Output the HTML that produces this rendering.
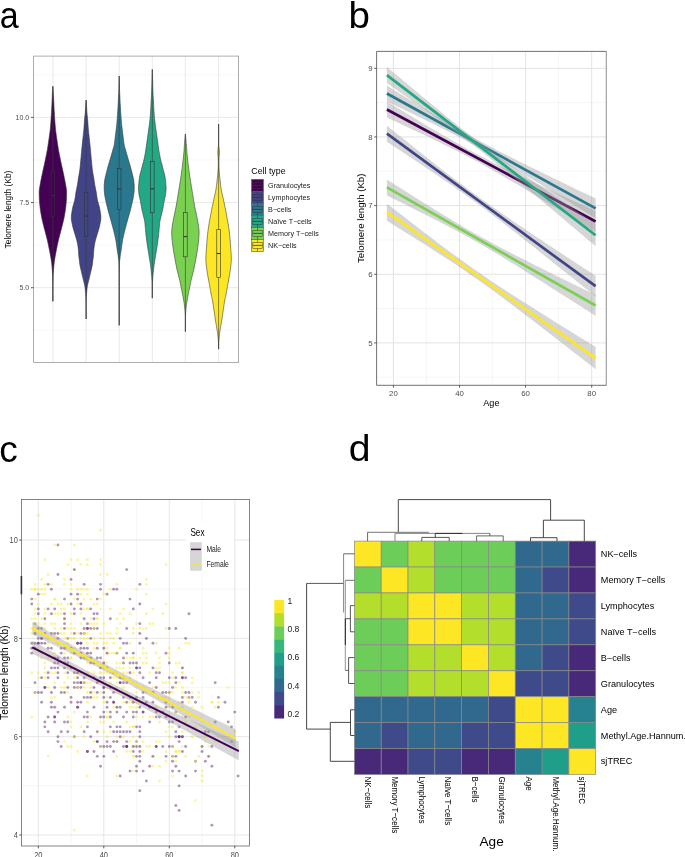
<!DOCTYPE html>
<html><head><meta charset="utf-8"><title>Figure</title>
<style>html,body{margin:0;padding:0;background:#fff;}svg{display:block;will-change:transform;font-family:"Liberation Sans", sans-serif;}</style>
</head><body>
<svg width="685" height="857" viewBox="0 0 685 857">
<rect width="685" height="857" fill="#fff"/>
<rect x="33.6" y="56.1" width="205.0" height="306.4" fill="#fff"/>
<line x1="33.6" x2="238.6" y1="330.27" y2="330.27" stroke="#f0f0f0" stroke-width="0.5"/>
<line x1="33.6" x2="238.6" y1="245.12" y2="245.12" stroke="#f0f0f0" stroke-width="0.5"/>
<line x1="33.6" x2="238.6" y1="159.97" y2="159.97" stroke="#f0f0f0" stroke-width="0.5"/>
<line x1="33.6" x2="238.6" y1="74.82" y2="74.82" stroke="#f0f0f0" stroke-width="0.5"/>
<line x1="33.6" x2="238.6" y1="287.7" y2="287.7" stroke="#e6e6e6" stroke-width="0.9"/>
<line x1="33.6" x2="238.6" y1="202.55" y2="202.55" stroke="#e6e6e6" stroke-width="0.9"/>
<line x1="33.6" x2="238.6" y1="117.4" y2="117.4" stroke="#e6e6e6" stroke-width="0.9"/>
<line x1="52.9" x2="52.9" y1="56.1" y2="362.5" stroke="#e6e6e6" stroke-width="0.9"/>
<line x1="86.1" x2="86.1" y1="56.1" y2="362.5" stroke="#e6e6e6" stroke-width="0.9"/>
<line x1="119.2" x2="119.2" y1="56.1" y2="362.5" stroke="#e6e6e6" stroke-width="0.9"/>
<line x1="152.3" x2="152.3" y1="56.1" y2="362.5" stroke="#e6e6e6" stroke-width="0.9"/>
<line x1="185.4" x2="185.4" y1="56.1" y2="362.5" stroke="#e6e6e6" stroke-width="0.9"/>
<line x1="218.6" x2="218.6" y1="56.1" y2="362.5" stroke="#e6e6e6" stroke-width="0.9"/>
<path d="M52.98 86.3C53.08 88.25 53.4 94.05 53.6 98C53.8 101.95 54 106.33 54.2 110C54.4 113.67 54.57 116.67 54.8 120C55.03 123.33 55.23 126.67 55.6 130C55.97 133.33 56.52 136.67 57 140C57.48 143.33 57.92 146.67 58.5 150C59.08 153.33 59.8 156.67 60.5 160C61.2 163.33 61.98 166.67 62.7 170C63.42 173.33 64.17 176.67 64.8 180C65.43 183.33 66.2 187.5 66.5 190C66.8 192.5 66.61 193.33 66.6 195C66.59 196.67 66.55 198.33 66.45 200C66.35 201.67 66.17 203.33 66 205C65.83 206.67 65.63 208.33 65.4 210C65.17 211.67 64.9 213.33 64.6 215C64.3 216.67 64.18 217.5 63.6 220C63.02 222.5 61.95 226.67 61.1 230C60.25 233.33 59.28 236.67 58.5 240C57.72 243.33 57.05 246.67 56.4 250C55.75 253.33 55.05 257 54.6 260C54.15 263 53.96 264.67 53.7 268C53.44 271.33 53.17 274.45 53.05 280C52.93 285.55 52.99 297.75 52.98 301.3L52.82 301.3C52.81 297.75 52.87 285.55 52.75 280C52.63 274.45 52.36 271.33 52.1 268C51.84 264.67 51.65 263 51.2 260C50.75 257 50.05 253.33 49.4 250C48.75 246.67 48.08 243.33 47.3 240C46.52 236.67 45.55 233.33 44.7 230C43.85 226.67 42.78 222.5 42.2 220C41.62 217.5 41.5 216.67 41.2 215C40.9 213.33 40.63 211.67 40.4 210C40.17 208.33 39.97 206.67 39.8 205C39.62 203.33 39.45 201.67 39.35 200C39.25 198.33 39.21 196.67 39.2 195C39.19 193.33 39 192.5 39.3 190C39.6 187.5 40.37 183.33 41 180C41.63 176.67 42.38 173.33 43.1 170C43.82 166.67 44.6 163.33 45.3 160C46 156.67 46.72 153.33 47.3 150C47.88 146.67 48.32 143.33 48.8 140C49.28 136.67 49.83 133.33 50.2 130C50.57 126.67 50.77 123.33 51 120C51.23 116.67 51.4 113.67 51.6 110C51.8 106.33 52 101.95 52.2 98C52.4 94.05 52.72 88.25 52.82 86.3Z" fill="#440154" stroke="#333" stroke-width="0.55"/>
<line x1="52.9" x2="52.9" y1="86.3" y2="171.2" stroke="#3a3a3a" stroke-width="0.6"/>
<line x1="52.9" x2="52.9" y1="216.3" y2="301.3" stroke="#3a3a3a" stroke-width="0.6"/>
<rect x="51.1" y="171.2" width="3.6" height="45.1" fill="#440154" stroke="#333" stroke-width="0.6"/>
<line x1="51.1" x2="54.7" y1="195.5" y2="195.5" stroke="#333" stroke-width="1.1"/>
<path d="M86.18 100.1C86.3 102.08 86.65 108.68 86.9 112C87.15 115.32 87.45 117 87.7 120C87.95 123 88.1 126.67 88.4 130C88.7 133.33 89.15 136.67 89.5 140C89.85 143.33 90.18 146.67 90.5 150C90.82 153.33 91.08 156.67 91.4 160C91.72 163.33 92 167 92.4 170C92.8 173 93.4 175.5 93.8 178C94.2 180.5 94.37 182.5 94.8 185C95.23 187.5 95.97 190.5 96.4 193C96.83 195.5 96.9 197.67 97.4 200C97.9 202.33 98.87 204.67 99.4 207C99.93 209.33 100.35 212.25 100.6 214C100.85 215.75 100.9 216.33 100.9 217.5C100.9 218.67 100.9 219.25 100.6 221C100.3 222.75 99.7 225.67 99.1 228C98.5 230.33 97.68 232.67 97 235C96.32 237.33 95.52 239.67 95 242C94.48 244.33 94.17 246.67 93.9 249C93.63 251.33 93.57 254.17 93.4 256C93.23 257.83 93.08 258.5 92.9 260C92.72 261.5 92.58 263.33 92.3 265C92.02 266.67 91.58 268.33 91.2 270C90.82 271.67 90.4 273.33 90 275C89.6 276.67 89.2 278.33 88.8 280C88.4 281.67 87.92 283.33 87.6 285C87.28 286.67 87.12 287.5 86.9 290C86.67 292.5 86.37 295.17 86.25 300C86.13 304.83 86.19 315.83 86.18 319L86.02 319C86.01 315.83 86.07 304.83 85.95 300C85.83 295.17 85.52 292.5 85.3 290C85.08 287.5 84.92 286.67 84.6 285C84.28 283.33 83.8 281.67 83.4 280C83 278.33 82.6 276.67 82.2 275C81.8 273.33 81.38 271.67 81 270C80.62 268.33 80.18 266.67 79.9 265C79.62 263.33 79.48 261.5 79.3 260C79.12 258.5 78.97 257.83 78.8 256C78.63 254.17 78.57 251.33 78.3 249C78.03 246.67 77.72 244.33 77.2 242C76.68 239.67 75.88 237.33 75.2 235C74.52 232.67 73.7 230.33 73.1 228C72.5 225.67 71.9 222.75 71.6 221C71.3 219.25 71.3 218.67 71.3 217.5C71.3 216.33 71.35 215.75 71.6 214C71.85 212.25 72.27 209.33 72.8 207C73.33 204.67 74.3 202.33 74.8 200C75.3 197.67 75.37 195.5 75.8 193C76.23 190.5 76.97 187.5 77.4 185C77.83 182.5 78 180.5 78.4 178C78.8 175.5 79.4 173 79.8 170C80.2 167 80.48 163.33 80.8 160C81.12 156.67 81.38 153.33 81.7 150C82.02 146.67 82.35 143.33 82.7 140C83.05 136.67 83.5 133.33 83.8 130C84.1 126.67 84.25 123 84.5 120C84.75 117 85.05 115.32 85.3 112C85.55 108.68 85.9 102.08 86.02 100.1Z" fill="#414487" stroke="#333" stroke-width="0.55"/>
<line x1="86.1" x2="86.1" y1="100.1" y2="192.2" stroke="#3a3a3a" stroke-width="0.6"/>
<line x1="86.1" x2="86.1" y1="236.4" y2="319" stroke="#3a3a3a" stroke-width="0.6"/>
<rect x="84.3" y="192.2" width="3.6" height="44.2" fill="#414487" stroke="#333" stroke-width="0.6"/>
<line x1="84.3" x2="87.9" y1="216.1" y2="216.1" stroke="#333" stroke-width="1.1"/>
<path d="M119.28 76.1C119.33 78.42 119.46 86.85 119.55 90C119.64 93.15 119.67 92.5 119.8 95C119.92 97.5 120.12 101.67 120.3 105C120.48 108.33 120.67 111.67 120.9 115C121.13 118.33 121.37 121.67 121.7 125C122.03 128.33 122.48 131.67 122.9 135C123.32 138.33 123.75 142.5 124.2 145C124.65 147.5 125.13 148.33 125.6 150C126.07 151.67 126.53 153.33 127 155C127.47 156.67 127.95 158.33 128.45 160C128.95 161.67 129.53 163.33 130 165C130.47 166.67 130.87 168.33 131.3 170C131.73 171.67 132.2 173.33 132.6 175C133 176.67 133.43 178.33 133.7 180C133.97 181.67 134.12 183.33 134.2 185C134.28 186.67 134.28 188.33 134.2 190C134.12 191.67 133.93 193.33 133.7 195C133.47 196.67 133.15 198.33 132.8 200C132.45 201.67 132 203.33 131.6 205C131.2 206.67 131.07 207.5 130.4 210C129.73 212.5 128.52 216.67 127.6 220C126.68 223.33 125.73 226.67 124.9 230C124.07 233.33 123.22 236.67 122.6 240C121.98 243.33 121.63 247 121.2 250C120.77 253 120.31 254.67 120 258C119.69 261.33 119.47 258.78 119.35 270C119.23 281.22 119.29 316.08 119.28 325.3L119.12 325.3C119.11 316.08 119.17 281.22 119.05 270C118.93 258.78 118.71 261.33 118.4 258C118.09 254.67 117.63 253 117.2 250C116.77 247 116.42 243.33 115.8 240C115.18 236.67 114.33 233.33 113.5 230C112.67 226.67 111.72 223.33 110.8 220C109.88 216.67 108.67 212.5 108 210C107.33 207.5 107.2 206.67 106.8 205C106.4 203.33 105.95 201.67 105.6 200C105.25 198.33 104.93 196.67 104.7 195C104.47 193.33 104.28 191.67 104.2 190C104.12 188.33 104.12 186.67 104.2 185C104.28 183.33 104.43 181.67 104.7 180C104.97 178.33 105.4 176.67 105.8 175C106.2 173.33 106.67 171.67 107.1 170C107.53 168.33 107.93 166.67 108.4 165C108.88 163.33 109.45 161.67 109.95 160C110.45 158.33 110.93 156.67 111.4 155C111.88 153.33 112.33 151.67 112.8 150C113.27 148.33 113.75 147.5 114.2 145C114.65 142.5 115.08 138.33 115.5 135C115.92 131.67 116.37 128.33 116.7 125C117.03 121.67 117.27 118.33 117.5 115C117.73 111.67 117.92 108.33 118.1 105C118.28 101.67 118.48 97.5 118.6 95C118.73 92.5 118.76 93.15 118.85 90C118.94 86.85 119.08 78.42 119.12 76.1Z" fill="#2A788E" stroke="#333" stroke-width="0.55"/>
<line x1="119.2" x2="119.2" y1="76.1" y2="168.4" stroke="#3a3a3a" stroke-width="0.6"/>
<line x1="119.2" x2="119.2" y1="209.4" y2="325.3" stroke="#3a3a3a" stroke-width="0.6"/>
<rect x="117.4" y="168.4" width="3.6" height="41" fill="#2A788E" stroke="#333" stroke-width="0.6"/>
<line x1="117.4" x2="121" y1="188.9" y2="188.9" stroke="#333" stroke-width="1.1"/>
<path d="M152.38 69.5C152.47 72.92 152.73 84.92 152.9 90C153.07 95.08 153.23 96.67 153.4 100C153.57 103.33 153.68 106.67 153.9 110C154.12 113.33 154.35 116.67 154.7 120C155.05 123.33 155.55 126.67 156 130C156.45 133.33 156.93 136.67 157.4 140C157.87 143.33 158.25 146.67 158.8 150C159.35 153.33 160.15 157.5 160.7 160C161.25 162.5 161.67 163.33 162.1 165C162.53 166.67 162.87 168.33 163.3 170C163.73 171.67 164.33 173.33 164.7 175C165.07 176.67 165.3 178.33 165.5 180C165.7 181.67 165.8 183.5 165.9 185C166 186.5 166.17 187.33 166.1 189C166.03 190.67 165.78 193.17 165.5 195C165.22 196.83 164.73 198.33 164.4 200C164.07 201.67 163.8 203.33 163.5 205C163.2 206.67 163.15 207.5 162.6 210C162.05 212.5 160.72 217.5 160.2 220C159.68 222.5 159.77 222.5 159.5 225C159.23 227.5 158.97 231.67 158.6 235C158.23 238.33 157.78 241.67 157.3 245C156.82 248.33 156.23 251.67 155.7 255C155.17 258.33 154.55 261.67 154.1 265C153.65 268.33 153.28 271.67 153 275C152.72 278.33 152.55 281.15 152.45 285C152.35 288.85 152.39 295.92 152.38 298.1L152.22 298.1C152.21 295.92 152.25 288.85 152.15 285C152.05 281.15 151.88 278.33 151.6 275C151.33 271.67 150.95 268.33 150.5 265C150.05 261.67 149.43 258.33 148.9 255C148.37 251.67 147.78 248.33 147.3 245C146.82 241.67 146.37 238.33 146 235C145.63 231.67 145.37 227.5 145.1 225C144.83 222.5 144.92 222.5 144.4 220C143.88 217.5 142.55 212.5 142 210C141.45 207.5 141.4 206.67 141.1 205C140.8 203.33 140.53 201.67 140.2 200C139.87 198.33 139.38 196.83 139.1 195C138.82 193.17 138.57 190.67 138.5 189C138.43 187.33 138.6 186.5 138.7 185C138.8 183.5 138.9 181.67 139.1 180C139.3 178.33 139.53 176.67 139.9 175C140.27 173.33 140.87 171.67 141.3 170C141.73 168.33 142.07 166.67 142.5 165C142.93 163.33 143.35 162.5 143.9 160C144.45 157.5 145.25 153.33 145.8 150C146.35 146.67 146.73 143.33 147.2 140C147.67 136.67 148.15 133.33 148.6 130C149.05 126.67 149.55 123.33 149.9 120C150.25 116.67 150.48 113.33 150.7 110C150.92 106.67 151.03 103.33 151.2 100C151.37 96.67 151.53 95.08 151.7 90C151.87 84.92 152.13 72.92 152.22 69.5Z" fill="#22A884" stroke="#333" stroke-width="0.55"/>
<line x1="152.3" x2="152.3" y1="69.5" y2="161.5" stroke="#3a3a3a" stroke-width="0.6"/>
<line x1="152.3" x2="152.3" y1="212.7" y2="298.1" stroke="#3a3a3a" stroke-width="0.6"/>
<rect x="150.5" y="161.5" width="3.6" height="51.2" fill="#22A884" stroke="#333" stroke-width="0.6"/>
<line x1="150.5" x2="154.1" y1="188.8" y2="188.8" stroke="#333" stroke-width="1.1"/>
<path d="M185.48 134.2C185.57 135.17 185.85 138.2 186 140C186.15 141.8 186.21 142.5 186.4 145C186.59 147.5 186.84 151.67 187.15 155C187.46 158.33 187.84 161.67 188.25 165C188.66 168.33 189.12 171.67 189.6 175C190.08 178.33 190.62 181.67 191.15 185C191.68 188.33 192.26 191.67 192.8 195C193.34 198.33 193.78 201.67 194.4 205C195.02 208.33 195.83 211.67 196.5 215C197.17 218.33 197.97 222.17 198.4 225C198.83 227.83 199.05 229.5 199.1 232C199.15 234.5 198.98 237 198.7 240C198.42 243 197.9 246.67 197.4 250C196.9 253.33 196.32 256.67 195.7 260C195.08 263.33 194.46 266.67 193.7 270C192.94 273.33 191.92 276.67 191.15 280C190.38 283.33 189.76 286.67 189.1 290C188.44 293.33 187.67 297.33 187.2 300C186.73 302.67 186.58 303.5 186.3 306C186.03 308.5 185.69 310.73 185.55 315C185.41 319.27 185.49 328.83 185.48 331.6L185.32 331.6C185.31 328.83 185.39 319.27 185.25 315C185.11 310.73 184.78 308.5 184.5 306C184.22 303.5 184.07 302.67 183.6 300C183.13 297.33 182.36 293.33 181.7 290C181.04 286.67 180.42 283.33 179.65 280C178.88 276.67 177.86 273.33 177.1 270C176.34 266.67 175.72 263.33 175.1 260C174.48 256.67 173.9 253.33 173.4 250C172.9 246.67 172.38 243 172.1 240C171.82 237 171.65 234.5 171.7 232C171.75 229.5 171.97 227.83 172.4 225C172.83 222.17 173.63 218.33 174.3 215C174.97 211.67 175.78 208.33 176.4 205C177.02 201.67 177.46 198.33 178 195C178.54 191.67 179.12 188.33 179.65 185C180.18 181.67 180.72 178.33 181.2 175C181.68 171.67 182.14 168.33 182.55 165C182.96 161.67 183.34 158.33 183.65 155C183.96 151.67 184.21 147.5 184.4 145C184.59 142.5 184.65 141.8 184.8 140C184.95 138.2 185.23 135.17 185.32 134.2Z" fill="#7AD151" stroke="#333" stroke-width="0.55"/>
<line x1="185.4" x2="185.4" y1="134.2" y2="212.3" stroke="#3a3a3a" stroke-width="0.6"/>
<line x1="185.4" x2="185.4" y1="256.8" y2="331.6" stroke="#3a3a3a" stroke-width="0.6"/>
<rect x="183.6" y="212.3" width="3.6" height="44.5" fill="#7AD151" stroke="#333" stroke-width="0.6"/>
<line x1="183.6" x2="187.2" y1="236.6" y2="236.6" stroke="#333" stroke-width="1.1"/>
<path d="M218.65 124C218.66 127.33 218.62 140 218.7 144C218.77 148 218.98 146.5 219.1 148C219.22 149.5 219.42 151.33 219.4 153C219.38 154.67 219.09 156.33 219 158C218.91 159.67 218.83 161 218.85 163C218.87 165 218.97 167.83 219.1 170C219.22 172.17 219.4 174 219.6 176C219.8 178 220.02 179.67 220.3 182C220.58 184.33 220.77 187 221.3 190C221.83 193 222.78 196.67 223.5 200C224.22 203.33 225.03 207.17 225.6 210C226.17 212.83 226.44 214.5 226.9 217C227.36 219.5 227.88 222 228.35 225C228.82 228 229.34 231.67 229.7 235C230.06 238.33 230.22 241.17 230.5 245C230.78 248.83 231.28 254.67 231.35 258C231.42 261.33 231.2 262.17 230.9 265C230.6 267.83 230.08 271.67 229.55 275C229.02 278.33 228.31 281.67 227.7 285C227.09 288.33 226.38 292.5 225.9 295C225.42 297.5 225.24 297.5 224.8 300C224.36 302.5 223.75 306.67 223.25 310C222.75 313.33 222.32 316.67 221.8 320C221.27 323.33 220.52 327.33 220.1 330C219.68 332.67 219.52 334 219.3 336C219.07 338 218.85 339.82 218.75 342C218.65 344.18 218.69 347.92 218.68 349.1L218.52 349.1C218.51 347.92 218.55 344.18 218.45 342C218.35 339.82 218.12 338 217.9 336C217.68 334 217.52 332.67 217.1 330C216.68 327.33 215.93 323.33 215.4 320C214.88 316.67 214.45 313.33 213.95 310C213.45 306.67 212.84 302.5 212.4 300C211.96 297.5 211.78 297.5 211.3 295C210.82 292.5 210.11 288.33 209.5 285C208.89 281.67 208.18 278.33 207.65 275C207.12 271.67 206.6 267.83 206.3 265C206 262.17 205.78 261.33 205.85 258C205.92 254.67 206.42 248.83 206.7 245C206.97 241.17 207.14 238.33 207.5 235C207.86 231.67 208.38 228 208.85 225C209.32 222 209.84 219.5 210.3 217C210.76 214.5 211.03 212.83 211.6 210C212.17 207.17 212.98 203.33 213.7 200C214.42 196.67 215.37 193 215.9 190C216.43 187 216.62 184.33 216.9 182C217.18 179.67 217.4 178 217.6 176C217.8 174 217.97 172.17 218.1 170C218.22 167.83 218.33 165 218.35 163C218.37 161 218.29 159.67 218.2 158C218.11 156.33 217.82 154.67 217.8 153C217.78 151.33 217.98 149.5 218.1 148C218.22 146.5 218.43 148 218.5 144C218.57 140 218.54 127.33 218.55 124Z" fill="#FDE725" stroke="#333" stroke-width="0.55"/>
<line x1="218.6" x2="218.6" y1="124" y2="229.6" stroke="#3a3a3a" stroke-width="0.6"/>
<line x1="218.6" x2="218.6" y1="277.4" y2="349.1" stroke="#3a3a3a" stroke-width="0.6"/>
<rect x="216.8" y="229.6" width="3.6" height="47.8" fill="#FDE725" stroke="#333" stroke-width="0.6"/>
<line x1="216.8" x2="220.4" y1="253.5" y2="253.5" stroke="#333" stroke-width="1.1"/>
<rect x="33.6" y="56.1" width="205.0" height="306.4" fill="none" stroke="#999" stroke-width="0.8"/>
<line x1="31" x2="33.6" y1="117.4" y2="117.4" stroke="#333" stroke-width="0.8"/>
<text x="29.2" y="119.9" font-size="7" fill="#4d4d4d" text-anchor="end">10.0</text>
<line x1="31" x2="33.6" y1="202.55" y2="202.55" stroke="#333" stroke-width="0.8"/>
<text x="29.2" y="205.05" font-size="7" fill="#4d4d4d" text-anchor="end">7.5</text>
<line x1="31" x2="33.6" y1="287.7" y2="287.7" stroke="#333" stroke-width="0.8"/>
<text x="29.2" y="290.2" font-size="7" fill="#4d4d4d" text-anchor="end">5.0</text>
<text transform="translate(11.3,209.5) rotate(-90)" font-size="8.4" fill="#000" text-anchor="middle">Telomere length (Kb)</text>
<text x="251.3" y="174" font-size="8.8" fill="#000">Cell type</text>
<rect x="251.6" y="179.4" width="11.8" height="12" fill="#440154" stroke="#555" stroke-width="0.6"/>
<line x1="257.5" x2="257.5" y1="179.4" y2="182.4" stroke="#333" stroke-width="0.5"/>
<line x1="257.5" x2="257.5" y1="188.4" y2="191.4" stroke="#333" stroke-width="0.5"/>
<rect x="252.8" y="182.4" width="9.4" height="6" fill="none" stroke="#333" stroke-width="0.5"/>
<line x1="252.8" x2="262.2" y1="185.4" y2="185.4" stroke="#333" stroke-width="0.8"/>
<text x="268.1" y="187.9" font-size="7.2" fill="#1a1a1a">Granulocytes</text>
<rect x="251.6" y="191.4" width="11.8" height="12" fill="#414487" stroke="#555" stroke-width="0.6"/>
<line x1="257.5" x2="257.5" y1="191.4" y2="194.4" stroke="#333" stroke-width="0.5"/>
<line x1="257.5" x2="257.5" y1="200.4" y2="203.4" stroke="#333" stroke-width="0.5"/>
<rect x="252.8" y="194.4" width="9.4" height="6" fill="none" stroke="#333" stroke-width="0.5"/>
<line x1="252.8" x2="262.2" y1="197.4" y2="197.4" stroke="#333" stroke-width="0.8"/>
<text x="268.1" y="199.9" font-size="7.2" fill="#1a1a1a">Lymphocytes</text>
<rect x="251.6" y="203.4" width="11.8" height="12" fill="#2A788E" stroke="#555" stroke-width="0.6"/>
<line x1="257.5" x2="257.5" y1="203.4" y2="206.4" stroke="#333" stroke-width="0.5"/>
<line x1="257.5" x2="257.5" y1="212.4" y2="215.4" stroke="#333" stroke-width="0.5"/>
<rect x="252.8" y="206.4" width="9.4" height="6" fill="none" stroke="#333" stroke-width="0.5"/>
<line x1="252.8" x2="262.2" y1="209.4" y2="209.4" stroke="#333" stroke-width="0.8"/>
<text x="268.1" y="211.9" font-size="7.2" fill="#1a1a1a">B−cells</text>
<rect x="251.6" y="215.4" width="11.8" height="12" fill="#22A884" stroke="#555" stroke-width="0.6"/>
<line x1="257.5" x2="257.5" y1="215.4" y2="218.4" stroke="#333" stroke-width="0.5"/>
<line x1="257.5" x2="257.5" y1="224.4" y2="227.4" stroke="#333" stroke-width="0.5"/>
<rect x="252.8" y="218.4" width="9.4" height="6" fill="none" stroke="#333" stroke-width="0.5"/>
<line x1="252.8" x2="262.2" y1="221.4" y2="221.4" stroke="#333" stroke-width="0.8"/>
<text x="268.1" y="223.9" font-size="7.2" fill="#1a1a1a">Naïve T−cells</text>
<rect x="251.6" y="227.4" width="11.8" height="12" fill="#7AD151" stroke="#555" stroke-width="0.6"/>
<line x1="257.5" x2="257.5" y1="227.4" y2="230.4" stroke="#333" stroke-width="0.5"/>
<line x1="257.5" x2="257.5" y1="236.4" y2="239.4" stroke="#333" stroke-width="0.5"/>
<rect x="252.8" y="230.4" width="9.4" height="6" fill="none" stroke="#333" stroke-width="0.5"/>
<line x1="252.8" x2="262.2" y1="233.4" y2="233.4" stroke="#333" stroke-width="0.8"/>
<text x="268.1" y="235.9" font-size="7.2" fill="#1a1a1a">Memory T−cells</text>
<rect x="251.6" y="239.4" width="11.8" height="12" fill="#FDE725" stroke="#555" stroke-width="0.6"/>
<line x1="257.5" x2="257.5" y1="239.4" y2="242.4" stroke="#333" stroke-width="0.5"/>
<line x1="257.5" x2="257.5" y1="248.4" y2="251.4" stroke="#333" stroke-width="0.5"/>
<rect x="252.8" y="242.4" width="9.4" height="6" fill="none" stroke="#333" stroke-width="0.5"/>
<line x1="252.8" x2="262.2" y1="245.4" y2="245.4" stroke="#333" stroke-width="0.8"/>
<text x="268.1" y="247.9" font-size="7.2" fill="#1a1a1a">NK−cells</text>
<rect x="376.6" y="51.4" width="229.69999999999993" height="333.90000000000003" fill="#fff"/>
<line x1="376.6" x2="606.3" y1="377.23" y2="377.23" stroke="#f0f0f0" stroke-width="0.6"/>
<line x1="376.6" x2="606.3" y1="308.58" y2="308.58" stroke="#f0f0f0" stroke-width="0.6"/>
<line x1="376.6" x2="606.3" y1="239.93" y2="239.93" stroke="#f0f0f0" stroke-width="0.6"/>
<line x1="376.6" x2="606.3" y1="171.28" y2="171.28" stroke="#f0f0f0" stroke-width="0.6"/>
<line x1="376.6" x2="606.3" y1="102.62" y2="102.62" stroke="#f0f0f0" stroke-width="0.6"/>
<line x1="426.45" x2="426.45" y1="51.4" y2="385.3" stroke="#f0f0f0" stroke-width="0.6"/>
<line x1="492.55" x2="492.55" y1="51.4" y2="385.3" stroke="#f0f0f0" stroke-width="0.6"/>
<line x1="558.65" x2="558.65" y1="51.4" y2="385.3" stroke="#f0f0f0" stroke-width="0.6"/>
<line x1="376.6" x2="606.3" y1="342.9" y2="342.9" stroke="#e3e3e3" stroke-width="1"/>
<line x1="376.6" x2="606.3" y1="274.25" y2="274.25" stroke="#e3e3e3" stroke-width="1"/>
<line x1="376.6" x2="606.3" y1="205.6" y2="205.6" stroke="#e3e3e3" stroke-width="1"/>
<line x1="376.6" x2="606.3" y1="136.95" y2="136.95" stroke="#e3e3e3" stroke-width="1"/>
<line x1="376.6" x2="606.3" y1="68.3" y2="68.3" stroke="#e3e3e3" stroke-width="1"/>
<line x1="393.4" x2="393.4" y1="51.4" y2="385.3" stroke="#e3e3e3" stroke-width="1"/>
<line x1="459.5" x2="459.5" y1="51.4" y2="385.3" stroke="#e3e3e3" stroke-width="1"/>
<line x1="525.6" x2="525.6" y1="51.4" y2="385.3" stroke="#e3e3e3" stroke-width="1"/>
<line x1="591.7" x2="591.7" y1="51.4" y2="385.3" stroke="#e3e3e3" stroke-width="1"/>
<path d="M386.9 101.49L395.6 106.77L404.29 112.04L412.99 117.28L421.68 122.5L430.38 127.67L439.07 132.8L447.77 137.86L456.47 142.84L465.16 147.72L473.86 152.47L482.55 157.08L491.25 161.57L499.95 165.96L508.64 170.25L517.34 174.47L526.03 178.63L534.73 182.76L543.42 186.86L552.12 190.93L560.82 194.99L569.51 199.03L578.21 203.06L586.9 207.08L595.6 211.1L595.6 231.9L586.9 226.58L578.21 221.27L569.51 215.97L560.82 210.68L552.12 205.4L543.42 200.14L534.73 194.91L526.03 189.7L517.34 184.53L508.64 179.42L499.95 174.38L491.25 169.43L482.55 164.58L473.86 159.87L465.16 155.28L456.47 150.82L447.77 146.47L439.07 142.2L430.38 137.99L421.68 133.84L412.99 129.72L404.29 125.63L395.6 121.56L386.9 117.51Z" fill="#999" fill-opacity="0.4"/>
<line x1="386.9" y1="109.5" x2="595.6" y2="221.5" stroke="#440154" stroke-width="2.7"/>
<path d="M386.9 125.69L395.6 132.66L404.29 139.61L412.99 146.54L421.68 153.45L430.38 160.31L439.07 167.13L447.77 173.88L456.47 180.54L465.16 187.1L473.86 193.54L482.55 199.85L491.25 206.02L499.95 212.09L508.64 218.07L517.34 223.98L526.03 229.83L534.73 235.65L543.42 241.43L552.12 247.19L560.82 252.94L569.51 258.67L578.21 264.39L586.9 270.09L595.6 275.8L595.6 296.6L586.9 289.6L578.21 282.6L569.51 275.61L560.82 268.63L552.12 261.66L543.42 254.72L534.73 247.79L526.03 240.9L517.34 234.05L508.64 227.25L499.95 220.52L491.25 213.88L482.55 207.35L473.86 200.94L465.16 194.67L456.47 188.52L447.77 182.48L439.07 176.52L430.38 170.63L421.68 164.79L412.99 158.98L404.29 153.2L395.6 147.45L386.9 141.71Z" fill="#999" fill-opacity="0.4"/>
<line x1="386.9" y1="133.7" x2="595.6" y2="286.2" stroke="#414487" stroke-width="2.7"/>
<path d="M386.9 85.49L395.6 90.91L404.29 96.31L412.99 101.68L421.68 107.03L430.38 112.33L439.07 117.58L447.77 122.77L456.47 127.88L465.16 132.87L473.86 137.75L482.55 142.5L491.25 147.12L499.95 151.64L508.64 156.07L517.34 160.44L526.03 164.75L534.73 169.03L543.42 173.28L552.12 177.51L560.82 181.73L569.51 185.94L578.21 190.14L586.9 194.33L595.6 198.52L595.6 218.28L586.9 212.9L578.21 207.51L569.51 202.14L560.82 196.77L552.12 191.41L543.42 186.07L534.73 180.75L526.03 175.45L517.34 170.19L508.64 164.98L499.95 159.83L491.25 154.78L482.55 149.83L473.86 145L465.16 140.3L456.47 135.72L447.77 131.25L439.07 126.87L430.38 122.54L421.68 118.27L412.99 114.04L404.29 109.84L395.6 105.67L386.9 101.51Z" fill="#999" fill-opacity="0.4"/>
<line x1="386.9" y1="93.5" x2="595.6" y2="208.4" stroke="#2A788E" stroke-width="2.7"/>
<path d="M386.9 67.09L395.6 74.36L404.29 81.61L412.99 88.84L421.68 96.05L430.38 103.22L439.07 110.34L447.77 117.41L456.47 124.38L465.16 131.25L473.86 138L482.55 144.61L491.25 151.09L499.95 157.45L508.64 163.72L517.34 169.91L526.03 176.04L534.73 182.13L543.42 188.18L552.12 194.21L560.82 200.21L569.51 206.2L578.21 212.17L586.9 218.12L595.6 224.07L595.6 246.33L586.9 238.93L578.21 231.55L569.51 224.18L560.82 216.82L552.12 209.48L543.42 202.17L534.73 194.88L526.03 187.62L517.34 180.42L508.64 173.27L499.95 166.19L491.25 159.21L482.55 152.35L473.86 145.62L465.16 139.02L456.47 132.55L447.77 126.19L439.07 119.91L430.38 113.69L421.68 107.52L412.99 101.39L404.29 95.28L395.6 89.19L386.9 83.11Z" fill="#999" fill-opacity="0.4"/>
<line x1="386.9" y1="75.1" x2="595.6" y2="235.2" stroke="#22A884" stroke-width="2.7"/>
<path d="M386.9 179.39L395.6 184.93L404.29 190.45L412.99 195.94L421.68 201.41L430.38 206.84L439.07 212.23L447.77 217.54L456.47 222.78L465.16 227.9L473.86 232.91L482.55 237.78L491.25 242.52L499.95 247.16L508.64 251.7L517.34 256.18L526.03 260.6L534.73 264.98L543.42 269.33L552.12 273.66L560.82 277.97L569.51 282.27L578.21 286.55L586.9 290.83L595.6 295.1L595.6 315.9L586.9 310.33L578.21 304.76L569.51 299.21L560.82 293.66L552.12 288.13L543.42 282.62L534.73 277.13L526.03 271.67L517.34 266.25L508.64 260.88L499.95 255.58L491.25 250.38L482.55 245.28L473.86 240.31L465.16 235.47L456.47 230.76L447.77 226.15L439.07 221.62L430.38 217.16L421.68 212.75L412.99 208.38L404.29 204.04L395.6 199.71L386.9 195.41Z" fill="#999" fill-opacity="0.4"/>
<line x1="386.9" y1="187.4" x2="595.6" y2="305.5" stroke="#7AD151" stroke-width="2.7"/>
<path d="M386.9 203.63L395.6 210.37L404.29 217.09L412.99 223.78L421.68 230.45L430.38 237.07L439.07 243.65L447.77 250.15L456.47 256.56L465.16 262.86L473.86 269.03L482.55 275.06L491.25 280.95L499.95 286.72L508.64 292.4L517.34 298L526.03 303.55L534.73 309.05L543.42 314.52L552.12 319.96L560.82 325.39L569.51 330.8L578.21 336.2L586.9 341.59L595.6 346.97L595.6 369.23L586.9 362.45L578.21 355.69L569.51 348.93L560.82 342.18L552.12 335.45L543.42 328.73L534.73 322.04L526.03 315.39L517.34 308.77L508.64 302.22L499.95 295.74L491.25 289.35L482.55 283.08L473.86 276.95L465.16 270.96L456.47 265.1L447.77 259.36L439.07 253.7L430.38 248.12L421.68 242.59L412.99 237.09L404.29 231.63L395.6 226.19L386.9 220.77Z" fill="#999" fill-opacity="0.4"/>
<line x1="386.9" y1="212.2" x2="595.6" y2="358.1" stroke="#FDE725" stroke-width="2.7"/>
<path d="M606.3 51.4H376.6M376.6 51.4V385.3H606.3" fill="none" stroke="#4d4d4d" stroke-width="0.8"/>
<line x1="606.3" x2="606.3" y1="51.0" y2="385.7" stroke="#999" stroke-width="1.1"/>
<line x1="374.2" x2="376.6" y1="342.9" y2="342.9" stroke="#333" stroke-width="0.8"/>
<text x="372.6" y="345.7" font-size="7.8" fill="#4d4d4d" text-anchor="end">5</text>
<line x1="374.2" x2="376.6" y1="274.25" y2="274.25" stroke="#333" stroke-width="0.8"/>
<text x="372.6" y="277.05" font-size="7.8" fill="#4d4d4d" text-anchor="end">6</text>
<line x1="374.2" x2="376.6" y1="205.6" y2="205.6" stroke="#333" stroke-width="0.8"/>
<text x="372.6" y="208.4" font-size="7.8" fill="#4d4d4d" text-anchor="end">7</text>
<line x1="374.2" x2="376.6" y1="136.95" y2="136.95" stroke="#333" stroke-width="0.8"/>
<text x="372.6" y="139.75" font-size="7.8" fill="#4d4d4d" text-anchor="end">8</text>
<line x1="374.2" x2="376.6" y1="68.3" y2="68.3" stroke="#333" stroke-width="0.8"/>
<text x="372.6" y="71.1" font-size="7.8" fill="#4d4d4d" text-anchor="end">9</text>
<line x1="393.4" x2="393.4" y1="385.3" y2="387.7" stroke="#333" stroke-width="0.8"/>
<text x="393.4" y="395.9" font-size="7.8" fill="#4d4d4d" text-anchor="middle">20</text>
<line x1="459.5" x2="459.5" y1="385.3" y2="387.7" stroke="#333" stroke-width="0.8"/>
<text x="459.5" y="395.9" font-size="7.8" fill="#4d4d4d" text-anchor="middle">40</text>
<line x1="525.6" x2="525.6" y1="385.3" y2="387.7" stroke="#333" stroke-width="0.8"/>
<text x="525.6" y="395.9" font-size="7.8" fill="#4d4d4d" text-anchor="middle">60</text>
<line x1="591.7" x2="591.7" y1="385.3" y2="387.7" stroke="#333" stroke-width="0.8"/>
<text x="591.7" y="395.9" font-size="7.8" fill="#4d4d4d" text-anchor="middle">80</text>
<text x="491.4" y="406.4" font-size="9.1" fill="#000" text-anchor="middle">Age</text>
<text transform="translate(364.2,218.3) rotate(-90)" font-size="9.65" fill="#000" text-anchor="middle">Telomere length (Kb)</text>
<rect x="21.5" y="499.5" width="228.0" height="346.5" fill="#fff"/>
<line x1="21.5" x2="249.5" y1="785.85" y2="785.85" stroke="#f0f0f0" stroke-width="0.6"/>
<line x1="21.5" x2="249.5" y1="687.55" y2="687.55" stroke="#f0f0f0" stroke-width="0.6"/>
<line x1="21.5" x2="249.5" y1="589.25" y2="589.25" stroke="#f0f0f0" stroke-width="0.6"/>
<line x1="71.05" x2="71.05" y1="499.5" y2="846.0" stroke="#f0f0f0" stroke-width="0.6"/>
<line x1="136.55" x2="136.55" y1="499.5" y2="846.0" stroke="#f0f0f0" stroke-width="0.6"/>
<line x1="202.05" x2="202.05" y1="499.5" y2="846.0" stroke="#f0f0f0" stroke-width="0.6"/>
<line x1="21.5" x2="249.5" y1="835" y2="835" stroke="#e3e3e3" stroke-width="0.9"/>
<line x1="21.5" x2="249.5" y1="736.7" y2="736.7" stroke="#e3e3e3" stroke-width="0.9"/>
<line x1="21.5" x2="249.5" y1="638.4" y2="638.4" stroke="#e3e3e3" stroke-width="0.9"/>
<line x1="21.5" x2="249.5" y1="540.1" y2="540.1" stroke="#e3e3e3" stroke-width="0.9"/>
<line x1="38.3" x2="38.3" y1="499.5" y2="846.0" stroke="#e3e3e3" stroke-width="0.9"/>
<line x1="103.8" x2="103.8" y1="499.5" y2="846.0" stroke="#e3e3e3" stroke-width="0.9"/>
<line x1="169.3" x2="169.3" y1="499.5" y2="846.0" stroke="#e3e3e3" stroke-width="0.9"/>
<line x1="234.8" x2="234.8" y1="499.5" y2="846.0" stroke="#e3e3e3" stroke-width="0.9"/>
<circle cx="41.57" cy="594.16" r="1.45" fill="#FDE725" fill-opacity="0.45"/>
<circle cx="169.3" cy="677.72" r="1.45" fill="#440154" fill-opacity="0.42"/>
<circle cx="113.62" cy="751.44" r="1.45" fill="#440154" fill-opacity="0.42"/>
<circle cx="77.6" cy="653.14" r="1.45" fill="#FDE725" fill-opacity="0.45"/>
<circle cx="123.45" cy="672.8" r="1.45" fill="#FDE725" fill-opacity="0.45"/>
<circle cx="71.05" cy="658.06" r="1.45" fill="#FDE725" fill-opacity="0.45"/>
<circle cx="126.72" cy="712.12" r="1.45" fill="#440154" fill-opacity="0.42"/>
<circle cx="192.22" cy="692.46" r="1.45" fill="#FDE725" fill-opacity="0.45"/>
<circle cx="116.9" cy="653.14" r="1.45" fill="#440154" fill-opacity="0.42"/>
<circle cx="192.22" cy="697.38" r="1.45" fill="#440154" fill-opacity="0.42"/>
<circle cx="130" cy="667.89" r="1.45" fill="#FDE725" fill-opacity="0.45"/>
<circle cx="195.5" cy="761.27" r="1.45" fill="#440154" fill-opacity="0.42"/>
<circle cx="146.38" cy="662.98" r="1.45" fill="#FDE725" fill-opacity="0.45"/>
<circle cx="110.35" cy="687.55" r="1.45" fill="#440154" fill-opacity="0.42"/>
<circle cx="172.57" cy="776.02" r="1.45" fill="#FDE725" fill-opacity="0.45"/>
<circle cx="100.53" cy="672.8" r="1.45" fill="#FDE725" fill-opacity="0.45"/>
<circle cx="143.1" cy="648.23" r="1.45" fill="#FDE725" fill-opacity="0.45"/>
<circle cx="38.3" cy="594.16" r="1.45" fill="#440154" fill-opacity="0.42"/>
<circle cx="169.3" cy="653.14" r="1.45" fill="#FDE725" fill-opacity="0.45"/>
<circle cx="123.45" cy="618.74" r="1.45" fill="#FDE725" fill-opacity="0.45"/>
<circle cx="77.6" cy="672.8" r="1.45" fill="#FDE725" fill-opacity="0.45"/>
<circle cx="61.22" cy="731.78" r="1.45" fill="#440154" fill-opacity="0.42"/>
<circle cx="179.12" cy="726.87" r="1.45" fill="#440154" fill-opacity="0.42"/>
<circle cx="87.42" cy="717.04" r="1.45" fill="#440154" fill-opacity="0.42"/>
<circle cx="169.3" cy="721.95" r="1.45" fill="#440154" fill-opacity="0.42"/>
<circle cx="103.8" cy="697.38" r="1.45" fill="#440154" fill-opacity="0.42"/>
<circle cx="51.4" cy="584.34" r="1.45" fill="#FDE725" fill-opacity="0.45"/>
<circle cx="136.55" cy="589.25" r="1.45" fill="#FDE725" fill-opacity="0.45"/>
<circle cx="90.7" cy="658.06" r="1.45" fill="#440154" fill-opacity="0.42"/>
<circle cx="100.53" cy="599.08" r="1.45" fill="#FDE725" fill-opacity="0.45"/>
<circle cx="169.3" cy="692.46" r="1.45" fill="#FDE725" fill-opacity="0.45"/>
<circle cx="182.4" cy="736.7" r="1.45" fill="#440154" fill-opacity="0.42"/>
<circle cx="136.55" cy="667.89" r="1.45" fill="#440154" fill-opacity="0.42"/>
<circle cx="31.75" cy="643.31" r="1.45" fill="#440154" fill-opacity="0.42"/>
<circle cx="116.9" cy="741.62" r="1.45" fill="#FDE725" fill-opacity="0.45"/>
<circle cx="169.3" cy="662.98" r="1.45" fill="#440154" fill-opacity="0.42"/>
<circle cx="136.55" cy="702.29" r="1.45" fill="#FDE725" fill-opacity="0.45"/>
<circle cx="113.62" cy="692.46" r="1.45" fill="#440154" fill-opacity="0.42"/>
<circle cx="234.8" cy="712.12" r="1.45" fill="#440154" fill-opacity="0.42"/>
<circle cx="107.07" cy="672.8" r="1.45" fill="#FDE725" fill-opacity="0.45"/>
<circle cx="133.27" cy="628.57" r="1.45" fill="#FDE725" fill-opacity="0.45"/>
<circle cx="166.02" cy="628.57" r="1.45" fill="#FDE725" fill-opacity="0.45"/>
<circle cx="130" cy="599.08" r="1.45" fill="#440154" fill-opacity="0.42"/>
<circle cx="80.88" cy="608.91" r="1.45" fill="#440154" fill-opacity="0.42"/>
<circle cx="116.9" cy="687.55" r="1.45" fill="#FDE725" fill-opacity="0.45"/>
<circle cx="71.05" cy="702.29" r="1.45" fill="#440154" fill-opacity="0.42"/>
<circle cx="120.17" cy="682.63" r="1.45" fill="#440154" fill-opacity="0.42"/>
<circle cx="146.38" cy="594.16" r="1.45" fill="#FDE725" fill-opacity="0.45"/>
<circle cx="44.85" cy="721.95" r="1.45" fill="#440154" fill-opacity="0.42"/>
<circle cx="64.5" cy="672.8" r="1.45" fill="#FDE725" fill-opacity="0.45"/>
<circle cx="90.7" cy="662.98" r="1.45" fill="#440154" fill-opacity="0.42"/>
<circle cx="166.02" cy="697.38" r="1.45" fill="#FDE725" fill-opacity="0.45"/>
<circle cx="107.07" cy="662.98" r="1.45" fill="#FDE725" fill-opacity="0.45"/>
<circle cx="136.55" cy="697.38" r="1.45" fill="#440154" fill-opacity="0.42"/>
<circle cx="172.57" cy="677.72" r="1.45" fill="#FDE725" fill-opacity="0.45"/>
<circle cx="169.3" cy="707.21" r="1.45" fill="#FDE725" fill-opacity="0.45"/>
<circle cx="71.05" cy="589.25" r="1.45" fill="#FDE725" fill-opacity="0.45"/>
<circle cx="166.02" cy="707.21" r="1.45" fill="#440154" fill-opacity="0.42"/>
<circle cx="172.57" cy="756.36" r="1.45" fill="#440154" fill-opacity="0.42"/>
<circle cx="38.3" cy="608.91" r="1.45" fill="#440154" fill-opacity="0.42"/>
<circle cx="77.6" cy="702.29" r="1.45" fill="#440154" fill-opacity="0.42"/>
<circle cx="156.2" cy="672.8" r="1.45" fill="#440154" fill-opacity="0.42"/>
<circle cx="172.57" cy="746.53" r="1.45" fill="#440154" fill-opacity="0.42"/>
<circle cx="87.42" cy="564.67" r="1.45" fill="#FDE725" fill-opacity="0.45"/>
<circle cx="74.32" cy="633.49" r="1.45" fill="#440154" fill-opacity="0.42"/>
<circle cx="139.82" cy="658.06" r="1.45" fill="#FDE725" fill-opacity="0.45"/>
<circle cx="61.22" cy="746.53" r="1.45" fill="#440154" fill-opacity="0.42"/>
<circle cx="93.97" cy="677.72" r="1.45" fill="#440154" fill-opacity="0.42"/>
<circle cx="38.3" cy="672.8" r="1.45" fill="#FDE725" fill-opacity="0.45"/>
<circle cx="71.05" cy="667.89" r="1.45" fill="#440154" fill-opacity="0.42"/>
<circle cx="139.82" cy="761.27" r="1.45" fill="#440154" fill-opacity="0.42"/>
<circle cx="67.77" cy="628.57" r="1.45" fill="#FDE725" fill-opacity="0.45"/>
<circle cx="100.53" cy="559.76" r="1.45" fill="#FDE725" fill-opacity="0.45"/>
<circle cx="31.75" cy="648.23" r="1.45" fill="#FDE725" fill-opacity="0.45"/>
<circle cx="87.42" cy="702.29" r="1.45" fill="#FDE725" fill-opacity="0.45"/>
<circle cx="185.68" cy="692.46" r="1.45" fill="#440154" fill-opacity="0.42"/>
<circle cx="84.15" cy="633.49" r="1.45" fill="#440154" fill-opacity="0.42"/>
<circle cx="202.05" cy="751.44" r="1.45" fill="#440154" fill-opacity="0.42"/>
<circle cx="179.12" cy="662.98" r="1.45" fill="#FDE725" fill-opacity="0.45"/>
<circle cx="93.97" cy="613.82" r="1.45" fill="#440154" fill-opacity="0.42"/>
<circle cx="48.12" cy="643.31" r="1.45" fill="#FDE725" fill-opacity="0.45"/>
<circle cx="116.9" cy="776.02" r="1.45" fill="#FDE725" fill-opacity="0.45"/>
<circle cx="218.43" cy="697.38" r="1.45" fill="#440154" fill-opacity="0.42"/>
<circle cx="84.15" cy="599.08" r="1.45" fill="#FDE725" fill-opacity="0.45"/>
<circle cx="38.3" cy="643.31" r="1.45" fill="#440154" fill-opacity="0.42"/>
<circle cx="166.02" cy="751.44" r="1.45" fill="#FDE725" fill-opacity="0.45"/>
<circle cx="54.67" cy="599.08" r="1.45" fill="#FDE725" fill-opacity="0.45"/>
<circle cx="67.77" cy="672.8" r="1.45" fill="#440154" fill-opacity="0.42"/>
<circle cx="100.53" cy="746.53" r="1.45" fill="#440154" fill-opacity="0.42"/>
<circle cx="110.35" cy="589.25" r="1.45" fill="#FDE725" fill-opacity="0.45"/>
<circle cx="175.85" cy="756.36" r="1.45" fill="#440154" fill-opacity="0.42"/>
<circle cx="120.17" cy="682.63" r="1.45" fill="#440154" fill-opacity="0.42"/>
<circle cx="156.2" cy="707.21" r="1.45" fill="#FDE725" fill-opacity="0.45"/>
<circle cx="44.85" cy="589.25" r="1.45" fill="#FDE725" fill-opacity="0.45"/>
<circle cx="84.15" cy="736.7" r="1.45" fill="#FDE725" fill-opacity="0.45"/>
<circle cx="120.17" cy="648.23" r="1.45" fill="#FDE725" fill-opacity="0.45"/>
<circle cx="172.57" cy="721.95" r="1.45" fill="#440154" fill-opacity="0.42"/>
<circle cx="156.2" cy="707.21" r="1.45" fill="#FDE725" fill-opacity="0.45"/>
<circle cx="35.02" cy="692.46" r="1.45" fill="#440154" fill-opacity="0.42"/>
<circle cx="41.57" cy="638.4" r="1.45" fill="#440154" fill-opacity="0.42"/>
<circle cx="139.82" cy="623.65" r="1.45" fill="#440154" fill-opacity="0.42"/>
<circle cx="90.7" cy="653.14" r="1.45" fill="#440154" fill-opacity="0.42"/>
<circle cx="156.2" cy="746.53" r="1.45" fill="#440154" fill-opacity="0.42"/>
<circle cx="116.9" cy="712.12" r="1.45" fill="#440154" fill-opacity="0.42"/>
<circle cx="35.02" cy="643.31" r="1.45" fill="#440154" fill-opacity="0.42"/>
<circle cx="166.02" cy="761.27" r="1.45" fill="#FDE725" fill-opacity="0.45"/>
<circle cx="113.62" cy="702.29" r="1.45" fill="#440154" fill-opacity="0.42"/>
<circle cx="139.82" cy="746.53" r="1.45" fill="#FDE725" fill-opacity="0.45"/>
<circle cx="80.88" cy="682.63" r="1.45" fill="#440154" fill-opacity="0.42"/>
<circle cx="87.42" cy="638.4" r="1.45" fill="#FDE725" fill-opacity="0.45"/>
<circle cx="38.3" cy="515.52" r="1.45" fill="#FDE725" fill-opacity="0.45"/>
<circle cx="182.4" cy="717.04" r="1.45" fill="#FDE725" fill-opacity="0.45"/>
<circle cx="100.53" cy="692.46" r="1.45" fill="#FDE725" fill-opacity="0.45"/>
<circle cx="166.02" cy="702.29" r="1.45" fill="#440154" fill-opacity="0.42"/>
<circle cx="64.5" cy="638.4" r="1.45" fill="#FDE725" fill-opacity="0.45"/>
<circle cx="87.42" cy="589.25" r="1.45" fill="#FDE725" fill-opacity="0.45"/>
<circle cx="71.05" cy="653.14" r="1.45" fill="#FDE725" fill-opacity="0.45"/>
<circle cx="139.82" cy="751.44" r="1.45" fill="#440154" fill-opacity="0.42"/>
<circle cx="228.25" cy="687.55" r="1.45" fill="#FDE725" fill-opacity="0.45"/>
<circle cx="198.77" cy="697.38" r="1.45" fill="#FDE725" fill-opacity="0.45"/>
<circle cx="107.07" cy="574.5" r="1.45" fill="#FDE725" fill-opacity="0.45"/>
<circle cx="80.88" cy="638.4" r="1.45" fill="#FDE725" fill-opacity="0.45"/>
<circle cx="149.65" cy="717.04" r="1.45" fill="#FDE725" fill-opacity="0.45"/>
<circle cx="90.7" cy="628.57" r="1.45" fill="#440154" fill-opacity="0.42"/>
<circle cx="51.4" cy="672.8" r="1.45" fill="#FDE725" fill-opacity="0.45"/>
<circle cx="87.42" cy="608.91" r="1.45" fill="#FDE725" fill-opacity="0.45"/>
<circle cx="139.82" cy="702.29" r="1.45" fill="#FDE725" fill-opacity="0.45"/>
<circle cx="97.25" cy="599.08" r="1.45" fill="#440154" fill-opacity="0.42"/>
<circle cx="123.45" cy="697.38" r="1.45" fill="#440154" fill-opacity="0.42"/>
<circle cx="113.62" cy="702.29" r="1.45" fill="#440154" fill-opacity="0.42"/>
<circle cx="103.8" cy="717.04" r="1.45" fill="#440154" fill-opacity="0.42"/>
<circle cx="64.5" cy="633.49" r="1.45" fill="#FDE725" fill-opacity="0.45"/>
<circle cx="54.67" cy="613.82" r="1.45" fill="#FDE725" fill-opacity="0.45"/>
<circle cx="110.35" cy="726.87" r="1.45" fill="#440154" fill-opacity="0.42"/>
<circle cx="100.53" cy="667.89" r="1.45" fill="#440154" fill-opacity="0.42"/>
<circle cx="130" cy="731.78" r="1.45" fill="#440154" fill-opacity="0.42"/>
<circle cx="77.6" cy="687.55" r="1.45" fill="#440154" fill-opacity="0.42"/>
<circle cx="97.25" cy="692.46" r="1.45" fill="#440154" fill-opacity="0.42"/>
<circle cx="61.22" cy="653.14" r="1.45" fill="#440154" fill-opacity="0.42"/>
<circle cx="139.82" cy="584.34" r="1.45" fill="#440154" fill-opacity="0.42"/>
<circle cx="175.85" cy="682.63" r="1.45" fill="#440154" fill-opacity="0.42"/>
<circle cx="162.75" cy="746.53" r="1.45" fill="#440154" fill-opacity="0.42"/>
<circle cx="123.45" cy="677.72" r="1.45" fill="#FDE725" fill-opacity="0.45"/>
<circle cx="175.85" cy="766.19" r="1.45" fill="#440154" fill-opacity="0.42"/>
<circle cx="156.2" cy="677.72" r="1.45" fill="#440154" fill-opacity="0.42"/>
<circle cx="35.02" cy="623.65" r="1.45" fill="#440154" fill-opacity="0.42"/>
<circle cx="123.45" cy="702.29" r="1.45" fill="#FDE725" fill-opacity="0.45"/>
<circle cx="133.27" cy="662.98" r="1.45" fill="#440154" fill-opacity="0.42"/>
<circle cx="126.72" cy="643.31" r="1.45" fill="#440154" fill-opacity="0.42"/>
<circle cx="44.85" cy="623.65" r="1.45" fill="#FDE725" fill-opacity="0.45"/>
<circle cx="126.72" cy="628.57" r="1.45" fill="#440154" fill-opacity="0.42"/>
<circle cx="159.47" cy="766.19" r="1.45" fill="#FDE725" fill-opacity="0.45"/>
<circle cx="48.12" cy="687.55" r="1.45" fill="#FDE725" fill-opacity="0.45"/>
<circle cx="51.4" cy="667.89" r="1.45" fill="#440154" fill-opacity="0.42"/>
<circle cx="182.4" cy="692.46" r="1.45" fill="#FDE725" fill-opacity="0.45"/>
<circle cx="41.57" cy="589.25" r="1.45" fill="#FDE725" fill-opacity="0.45"/>
<circle cx="126.72" cy="731.78" r="1.45" fill="#440154" fill-opacity="0.42"/>
<circle cx="116.9" cy="589.25" r="1.45" fill="#440154" fill-opacity="0.42"/>
<circle cx="136.55" cy="692.46" r="1.45" fill="#FDE725" fill-opacity="0.45"/>
<circle cx="80.88" cy="564.67" r="1.45" fill="#FDE725" fill-opacity="0.45"/>
<circle cx="87.42" cy="712.12" r="1.45" fill="#440154" fill-opacity="0.42"/>
<circle cx="84.15" cy="638.4" r="1.45" fill="#FDE725" fill-opacity="0.45"/>
<circle cx="71.05" cy="623.65" r="1.45" fill="#FDE725" fill-opacity="0.45"/>
<circle cx="133.27" cy="771.11" r="1.45" fill="#FDE725" fill-opacity="0.45"/>
<circle cx="103.8" cy="594.16" r="1.45" fill="#FDE725" fill-opacity="0.45"/>
<circle cx="110.35" cy="746.53" r="1.45" fill="#440154" fill-opacity="0.42"/>
<circle cx="175.85" cy="662.98" r="1.45" fill="#FDE725" fill-opacity="0.45"/>
<circle cx="77.6" cy="589.25" r="1.45" fill="#FDE725" fill-opacity="0.45"/>
<circle cx="67.77" cy="721.95" r="1.45" fill="#440154" fill-opacity="0.42"/>
<circle cx="103.8" cy="687.55" r="1.45" fill="#440154" fill-opacity="0.42"/>
<circle cx="38.3" cy="589.25" r="1.45" fill="#FDE725" fill-opacity="0.45"/>
<circle cx="103.8" cy="721.95" r="1.45" fill="#FDE725" fill-opacity="0.45"/>
<circle cx="41.57" cy="653.14" r="1.45" fill="#FDE725" fill-opacity="0.45"/>
<circle cx="77.6" cy="643.31" r="1.45" fill="#440154" fill-opacity="0.42"/>
<circle cx="133.27" cy="726.87" r="1.45" fill="#FDE725" fill-opacity="0.45"/>
<circle cx="87.42" cy="672.8" r="1.45" fill="#FDE725" fill-opacity="0.45"/>
<circle cx="41.57" cy="579.42" r="1.45" fill="#FDE725" fill-opacity="0.45"/>
<circle cx="44.85" cy="726.87" r="1.45" fill="#440154" fill-opacity="0.42"/>
<circle cx="71.05" cy="648.23" r="1.45" fill="#440154" fill-opacity="0.42"/>
<circle cx="133.27" cy="712.12" r="1.45" fill="#440154" fill-opacity="0.42"/>
<circle cx="146.38" cy="653.14" r="1.45" fill="#FDE725" fill-opacity="0.45"/>
<circle cx="146.38" cy="584.34" r="1.45" fill="#FDE725" fill-opacity="0.45"/>
<circle cx="156.2" cy="746.53" r="1.45" fill="#440154" fill-opacity="0.42"/>
<circle cx="77.6" cy="672.8" r="1.45" fill="#FDE725" fill-opacity="0.45"/>
<circle cx="57.95" cy="736.7" r="1.45" fill="#440154" fill-opacity="0.42"/>
<circle cx="100.53" cy="589.25" r="1.45" fill="#440154" fill-opacity="0.42"/>
<circle cx="107.07" cy="712.12" r="1.45" fill="#FDE725" fill-opacity="0.45"/>
<circle cx="139.82" cy="604" r="1.45" fill="#440154" fill-opacity="0.42"/>
<circle cx="61.22" cy="604" r="1.45" fill="#FDE725" fill-opacity="0.45"/>
<circle cx="152.93" cy="702.29" r="1.45" fill="#440154" fill-opacity="0.42"/>
<circle cx="166.02" cy="653.14" r="1.45" fill="#440154" fill-opacity="0.42"/>
<circle cx="38.3" cy="638.4" r="1.45" fill="#440154" fill-opacity="0.42"/>
<circle cx="41.57" cy="677.72" r="1.45" fill="#440154" fill-opacity="0.42"/>
<circle cx="107.07" cy="594.16" r="1.45" fill="#440154" fill-opacity="0.42"/>
<circle cx="35.02" cy="623.65" r="1.45" fill="#FDE725" fill-opacity="0.45"/>
<circle cx="126.72" cy="741.62" r="1.45" fill="#440154" fill-opacity="0.42"/>
<circle cx="110.35" cy="677.72" r="1.45" fill="#440154" fill-opacity="0.42"/>
<circle cx="139.82" cy="736.7" r="1.45" fill="#440154" fill-opacity="0.42"/>
<circle cx="159.47" cy="667.89" r="1.45" fill="#FDE725" fill-opacity="0.45"/>
<circle cx="93.97" cy="687.55" r="1.45" fill="#440154" fill-opacity="0.42"/>
<circle cx="93.97" cy="623.65" r="1.45" fill="#FDE725" fill-opacity="0.45"/>
<circle cx="77.6" cy="604" r="1.45" fill="#FDE725" fill-opacity="0.45"/>
<circle cx="126.72" cy="702.29" r="1.45" fill="#440154" fill-opacity="0.42"/>
<circle cx="54.67" cy="682.63" r="1.45" fill="#FDE725" fill-opacity="0.45"/>
<circle cx="71.05" cy="638.4" r="1.45" fill="#FDE725" fill-opacity="0.45"/>
<circle cx="182.4" cy="667.89" r="1.45" fill="#FDE725" fill-opacity="0.45"/>
<circle cx="103.8" cy="662.98" r="1.45" fill="#FDE725" fill-opacity="0.45"/>
<circle cx="211.88" cy="702.29" r="1.45" fill="#FDE725" fill-opacity="0.45"/>
<circle cx="44.85" cy="643.31" r="1.45" fill="#440154" fill-opacity="0.42"/>
<circle cx="120.17" cy="692.46" r="1.45" fill="#FDE725" fill-opacity="0.45"/>
<circle cx="61.22" cy="608.91" r="1.45" fill="#FDE725" fill-opacity="0.45"/>
<circle cx="51.4" cy="604" r="1.45" fill="#FDE725" fill-opacity="0.45"/>
<circle cx="31.75" cy="628.57" r="1.45" fill="#FDE725" fill-opacity="0.45"/>
<circle cx="126.72" cy="672.8" r="1.45" fill="#FDE725" fill-opacity="0.45"/>
<circle cx="123.45" cy="717.04" r="1.45" fill="#440154" fill-opacity="0.42"/>
<circle cx="100.53" cy="717.04" r="1.45" fill="#440154" fill-opacity="0.42"/>
<circle cx="208.6" cy="756.36" r="1.45" fill="#FDE725" fill-opacity="0.45"/>
<circle cx="93.97" cy="643.31" r="1.45" fill="#FDE725" fill-opacity="0.45"/>
<circle cx="57.95" cy="613.82" r="1.45" fill="#FDE725" fill-opacity="0.45"/>
<circle cx="90.7" cy="608.91" r="1.45" fill="#440154" fill-opacity="0.42"/>
<circle cx="234.8" cy="731.78" r="1.45" fill="#FDE725" fill-opacity="0.45"/>
<circle cx="41.57" cy="638.4" r="1.45" fill="#440154" fill-opacity="0.42"/>
<circle cx="87.42" cy="628.57" r="1.45" fill="#440154" fill-opacity="0.42"/>
<circle cx="123.45" cy="677.72" r="1.45" fill="#440154" fill-opacity="0.42"/>
<circle cx="179.12" cy="751.44" r="1.45" fill="#FDE725" fill-opacity="0.45"/>
<circle cx="208.6" cy="731.78" r="1.45" fill="#440154" fill-opacity="0.42"/>
<circle cx="179.12" cy="648.23" r="1.45" fill="#FDE725" fill-opacity="0.45"/>
<circle cx="110.35" cy="682.63" r="1.45" fill="#FDE725" fill-opacity="0.45"/>
<circle cx="113.62" cy="643.31" r="1.45" fill="#FDE725" fill-opacity="0.45"/>
<circle cx="146.38" cy="658.06" r="1.45" fill="#FDE725" fill-opacity="0.45"/>
<circle cx="139.82" cy="726.87" r="1.45" fill="#440154" fill-opacity="0.42"/>
<circle cx="87.42" cy="682.63" r="1.45" fill="#FDE725" fill-opacity="0.45"/>
<circle cx="185.68" cy="697.38" r="1.45" fill="#FDE725" fill-opacity="0.45"/>
<circle cx="77.6" cy="751.44" r="1.45" fill="#FDE725" fill-opacity="0.45"/>
<circle cx="120.17" cy="623.65" r="1.45" fill="#FDE725" fill-opacity="0.45"/>
<circle cx="130" cy="771.11" r="1.45" fill="#440154" fill-opacity="0.42"/>
<circle cx="77.6" cy="672.8" r="1.45" fill="#440154" fill-opacity="0.42"/>
<circle cx="64.5" cy="653.14" r="1.45" fill="#FDE725" fill-opacity="0.45"/>
<circle cx="57.95" cy="741.62" r="1.45" fill="#440154" fill-opacity="0.42"/>
<circle cx="159.47" cy="662.98" r="1.45" fill="#FDE725" fill-opacity="0.45"/>
<circle cx="64.5" cy="623.65" r="1.45" fill="#440154" fill-opacity="0.42"/>
<circle cx="179.12" cy="702.29" r="1.45" fill="#FDE725" fill-opacity="0.45"/>
<circle cx="107.07" cy="687.55" r="1.45" fill="#FDE725" fill-opacity="0.45"/>
<circle cx="123.45" cy="746.53" r="1.45" fill="#440154" fill-opacity="0.42"/>
<circle cx="103.8" cy="712.12" r="1.45" fill="#440154" fill-opacity="0.42"/>
<circle cx="123.45" cy="608.91" r="1.45" fill="#FDE725" fill-opacity="0.45"/>
<circle cx="126.72" cy="697.38" r="1.45" fill="#FDE725" fill-opacity="0.45"/>
<circle cx="156.2" cy="687.55" r="1.45" fill="#440154" fill-opacity="0.42"/>
<circle cx="35.02" cy="692.46" r="1.45" fill="#FDE725" fill-opacity="0.45"/>
<circle cx="169.3" cy="658.06" r="1.45" fill="#FDE725" fill-opacity="0.45"/>
<circle cx="67.77" cy="638.4" r="1.45" fill="#440154" fill-opacity="0.42"/>
<circle cx="188.95" cy="613.82" r="1.45" fill="#440154" fill-opacity="0.42"/>
<circle cx="136.55" cy="707.21" r="1.45" fill="#FDE725" fill-opacity="0.45"/>
<circle cx="192.22" cy="736.7" r="1.45" fill="#FDE725" fill-opacity="0.45"/>
<circle cx="162.75" cy="682.63" r="1.45" fill="#FDE725" fill-opacity="0.45"/>
<circle cx="130" cy="702.29" r="1.45" fill="#FDE725" fill-opacity="0.45"/>
<circle cx="116.9" cy="628.57" r="1.45" fill="#FDE725" fill-opacity="0.45"/>
<circle cx="67.77" cy="731.78" r="1.45" fill="#440154" fill-opacity="0.42"/>
<circle cx="179.12" cy="736.7" r="1.45" fill="#440154" fill-opacity="0.42"/>
<circle cx="87.42" cy="594.16" r="1.45" fill="#FDE725" fill-opacity="0.45"/>
<circle cx="77.6" cy="707.21" r="1.45" fill="#440154" fill-opacity="0.42"/>
<circle cx="74.32" cy="682.63" r="1.45" fill="#440154" fill-opacity="0.42"/>
<circle cx="133.27" cy="726.87" r="1.45" fill="#FDE725" fill-opacity="0.45"/>
<circle cx="64.5" cy="707.21" r="1.45" fill="#440154" fill-opacity="0.42"/>
<circle cx="67.77" cy="677.72" r="1.45" fill="#FDE725" fill-opacity="0.45"/>
<circle cx="80.88" cy="633.49" r="1.45" fill="#440154" fill-opacity="0.42"/>
<circle cx="116.9" cy="584.34" r="1.45" fill="#FDE725" fill-opacity="0.45"/>
<circle cx="71.05" cy="579.42" r="1.45" fill="#440154" fill-opacity="0.42"/>
<circle cx="54.67" cy="599.08" r="1.45" fill="#FDE725" fill-opacity="0.45"/>
<circle cx="71.05" cy="584.34" r="1.45" fill="#FDE725" fill-opacity="0.45"/>
<circle cx="67.77" cy="692.46" r="1.45" fill="#FDE725" fill-opacity="0.45"/>
<circle cx="146.38" cy="638.4" r="1.45" fill="#440154" fill-opacity="0.42"/>
<circle cx="103.8" cy="731.78" r="1.45" fill="#FDE725" fill-opacity="0.45"/>
<circle cx="107.07" cy="702.29" r="1.45" fill="#440154" fill-opacity="0.42"/>
<circle cx="120.17" cy="613.82" r="1.45" fill="#FDE725" fill-opacity="0.45"/>
<circle cx="31.75" cy="599.08" r="1.45" fill="#440154" fill-opacity="0.42"/>
<circle cx="175.85" cy="731.78" r="1.45" fill="#440154" fill-opacity="0.42"/>
<circle cx="87.42" cy="692.46" r="1.45" fill="#FDE725" fill-opacity="0.45"/>
<circle cx="80.88" cy="623.65" r="1.45" fill="#FDE725" fill-opacity="0.45"/>
<circle cx="64.5" cy="618.74" r="1.45" fill="#FDE725" fill-opacity="0.45"/>
<circle cx="100.53" cy="721.95" r="1.45" fill="#FDE725" fill-opacity="0.45"/>
<circle cx="67.77" cy="667.89" r="1.45" fill="#FDE725" fill-opacity="0.45"/>
<circle cx="130" cy="741.62" r="1.45" fill="#FDE725" fill-opacity="0.45"/>
<circle cx="44.85" cy="559.76" r="1.45" fill="#FDE725" fill-opacity="0.45"/>
<circle cx="80.88" cy="682.63" r="1.45" fill="#440154" fill-opacity="0.42"/>
<circle cx="87.42" cy="726.87" r="1.45" fill="#440154" fill-opacity="0.42"/>
<circle cx="71.05" cy="726.87" r="1.45" fill="#FDE725" fill-opacity="0.45"/>
<circle cx="123.45" cy="667.89" r="1.45" fill="#FDE725" fill-opacity="0.45"/>
<circle cx="103.8" cy="756.36" r="1.45" fill="#440154" fill-opacity="0.42"/>
<circle cx="228.25" cy="721.95" r="1.45" fill="#440154" fill-opacity="0.42"/>
<circle cx="103.8" cy="667.89" r="1.45" fill="#FDE725" fill-opacity="0.45"/>
<circle cx="54.67" cy="707.21" r="1.45" fill="#440154" fill-opacity="0.42"/>
<circle cx="120.17" cy="677.72" r="1.45" fill="#440154" fill-opacity="0.42"/>
<circle cx="113.62" cy="707.21" r="1.45" fill="#FDE725" fill-opacity="0.45"/>
<circle cx="133.27" cy="633.49" r="1.45" fill="#FDE725" fill-opacity="0.45"/>
<circle cx="38.3" cy="677.72" r="1.45" fill="#FDE725" fill-opacity="0.45"/>
<circle cx="116.9" cy="726.87" r="1.45" fill="#440154" fill-opacity="0.42"/>
<circle cx="126.72" cy="692.46" r="1.45" fill="#FDE725" fill-opacity="0.45"/>
<circle cx="31.75" cy="633.49" r="1.45" fill="#FDE725" fill-opacity="0.45"/>
<circle cx="103.8" cy="677.72" r="1.45" fill="#440154" fill-opacity="0.42"/>
<circle cx="71.05" cy="746.53" r="1.45" fill="#FDE725" fill-opacity="0.45"/>
<circle cx="139.82" cy="667.89" r="1.45" fill="#440154" fill-opacity="0.42"/>
<circle cx="211.88" cy="766.19" r="1.45" fill="#440154" fill-opacity="0.42"/>
<circle cx="198.77" cy="756.36" r="1.45" fill="#FDE725" fill-opacity="0.45"/>
<circle cx="107.07" cy="667.89" r="1.45" fill="#440154" fill-opacity="0.42"/>
<circle cx="54.67" cy="697.38" r="1.45" fill="#FDE725" fill-opacity="0.45"/>
<circle cx="110.35" cy="638.4" r="1.45" fill="#FDE725" fill-opacity="0.45"/>
<circle cx="133.27" cy="658.06" r="1.45" fill="#FDE725" fill-opacity="0.45"/>
<circle cx="41.57" cy="618.74" r="1.45" fill="#FDE725" fill-opacity="0.45"/>
<circle cx="90.7" cy="638.4" r="1.45" fill="#440154" fill-opacity="0.42"/>
<circle cx="44.85" cy="628.57" r="1.45" fill="#FDE725" fill-opacity="0.45"/>
<circle cx="57.95" cy="574.5" r="1.45" fill="#440154" fill-opacity="0.42"/>
<circle cx="182.4" cy="687.55" r="1.45" fill="#FDE725" fill-opacity="0.45"/>
<circle cx="80.88" cy="702.29" r="1.45" fill="#440154" fill-opacity="0.42"/>
<circle cx="136.55" cy="662.98" r="1.45" fill="#440154" fill-opacity="0.42"/>
<circle cx="31.75" cy="618.74" r="1.45" fill="#FDE725" fill-opacity="0.45"/>
<circle cx="90.7" cy="623.65" r="1.45" fill="#FDE725" fill-opacity="0.45"/>
<circle cx="126.72" cy="751.44" r="1.45" fill="#FDE725" fill-opacity="0.45"/>
<circle cx="87.42" cy="658.06" r="1.45" fill="#440154" fill-opacity="0.42"/>
<circle cx="133.27" cy="736.7" r="1.45" fill="#FDE725" fill-opacity="0.45"/>
<circle cx="71.05" cy="559.76" r="1.45" fill="#FDE725" fill-opacity="0.45"/>
<circle cx="156.2" cy="712.12" r="1.45" fill="#440154" fill-opacity="0.42"/>
<circle cx="80.88" cy="658.06" r="1.45" fill="#440154" fill-opacity="0.42"/>
<circle cx="67.77" cy="564.67" r="1.45" fill="#FDE725" fill-opacity="0.45"/>
<circle cx="179.12" cy="785.85" r="1.45" fill="#440154" fill-opacity="0.42"/>
<circle cx="175.85" cy="687.55" r="1.45" fill="#FDE725" fill-opacity="0.45"/>
<circle cx="146.38" cy="702.29" r="1.45" fill="#440154" fill-opacity="0.42"/>
<circle cx="48.12" cy="638.4" r="1.45" fill="#FDE725" fill-opacity="0.45"/>
<circle cx="143.1" cy="712.12" r="1.45" fill="#440154" fill-opacity="0.42"/>
<circle cx="107.07" cy="643.31" r="1.45" fill="#FDE725" fill-opacity="0.45"/>
<circle cx="74.32" cy="667.89" r="1.45" fill="#FDE725" fill-opacity="0.45"/>
<circle cx="116.9" cy="682.63" r="1.45" fill="#FDE725" fill-opacity="0.45"/>
<circle cx="90.7" cy="717.04" r="1.45" fill="#FDE725" fill-opacity="0.45"/>
<circle cx="169.3" cy="736.7" r="1.45" fill="#FDE725" fill-opacity="0.45"/>
<circle cx="90.7" cy="687.55" r="1.45" fill="#FDE725" fill-opacity="0.45"/>
<circle cx="87.42" cy="662.98" r="1.45" fill="#FDE725" fill-opacity="0.45"/>
<circle cx="231.52" cy="726.87" r="1.45" fill="#440154" fill-opacity="0.42"/>
<circle cx="211.88" cy="702.29" r="1.45" fill="#FDE725" fill-opacity="0.45"/>
<circle cx="48.12" cy="756.36" r="1.45" fill="#FDE725" fill-opacity="0.45"/>
<circle cx="97.25" cy="613.82" r="1.45" fill="#440154" fill-opacity="0.42"/>
<circle cx="41.57" cy="658.06" r="1.45" fill="#FDE725" fill-opacity="0.45"/>
<circle cx="103.8" cy="623.65" r="1.45" fill="#FDE725" fill-opacity="0.45"/>
<circle cx="35.02" cy="589.25" r="1.45" fill="#FDE725" fill-opacity="0.45"/>
<circle cx="182.4" cy="702.29" r="1.45" fill="#440154" fill-opacity="0.42"/>
<circle cx="64.5" cy="599.08" r="1.45" fill="#440154" fill-opacity="0.42"/>
<circle cx="48.12" cy="658.06" r="1.45" fill="#FDE725" fill-opacity="0.45"/>
<circle cx="97.25" cy="682.63" r="1.45" fill="#FDE725" fill-opacity="0.45"/>
<circle cx="215.15" cy="741.62" r="1.45" fill="#FDE725" fill-opacity="0.45"/>
<circle cx="136.55" cy="667.89" r="1.45" fill="#440154" fill-opacity="0.42"/>
<circle cx="44.85" cy="677.72" r="1.45" fill="#FDE725" fill-opacity="0.45"/>
<circle cx="136.55" cy="741.62" r="1.45" fill="#440154" fill-opacity="0.42"/>
<circle cx="166.02" cy="731.78" r="1.45" fill="#FDE725" fill-opacity="0.45"/>
<circle cx="152.93" cy="692.46" r="1.45" fill="#440154" fill-opacity="0.42"/>
<circle cx="116.9" cy="741.62" r="1.45" fill="#440154" fill-opacity="0.42"/>
<circle cx="146.38" cy="613.82" r="1.45" fill="#FDE725" fill-opacity="0.45"/>
<circle cx="61.22" cy="613.82" r="1.45" fill="#FDE725" fill-opacity="0.45"/>
<circle cx="156.2" cy="653.14" r="1.45" fill="#FDE725" fill-opacity="0.45"/>
<circle cx="93.97" cy="662.98" r="1.45" fill="#440154" fill-opacity="0.42"/>
<circle cx="113.62" cy="741.62" r="1.45" fill="#440154" fill-opacity="0.42"/>
<circle cx="149.65" cy="766.19" r="1.45" fill="#440154" fill-opacity="0.42"/>
<circle cx="133.27" cy="756.36" r="1.45" fill="#FDE725" fill-opacity="0.45"/>
<circle cx="61.22" cy="687.55" r="1.45" fill="#FDE725" fill-opacity="0.45"/>
<circle cx="152.93" cy="608.91" r="1.45" fill="#FDE725" fill-opacity="0.45"/>
<circle cx="44.85" cy="633.49" r="1.45" fill="#440154" fill-opacity="0.42"/>
<circle cx="74.32" cy="638.4" r="1.45" fill="#FDE725" fill-opacity="0.45"/>
<circle cx="84.15" cy="628.57" r="1.45" fill="#440154" fill-opacity="0.42"/>
<circle cx="80.88" cy="613.82" r="1.45" fill="#FDE725" fill-opacity="0.45"/>
<circle cx="54.67" cy="608.91" r="1.45" fill="#440154" fill-opacity="0.42"/>
<circle cx="84.15" cy="658.06" r="1.45" fill="#440154" fill-opacity="0.42"/>
<circle cx="87.42" cy="653.14" r="1.45" fill="#FDE725" fill-opacity="0.45"/>
<circle cx="107.07" cy="717.04" r="1.45" fill="#FDE725" fill-opacity="0.45"/>
<circle cx="93.97" cy="638.4" r="1.45" fill="#FDE725" fill-opacity="0.45"/>
<circle cx="74.32" cy="608.91" r="1.45" fill="#440154" fill-opacity="0.42"/>
<circle cx="172.57" cy="756.36" r="1.45" fill="#FDE725" fill-opacity="0.45"/>
<circle cx="77.6" cy="677.72" r="1.45" fill="#440154" fill-opacity="0.42"/>
<circle cx="54.67" cy="628.57" r="1.45" fill="#FDE725" fill-opacity="0.45"/>
<circle cx="123.45" cy="658.06" r="1.45" fill="#440154" fill-opacity="0.42"/>
<circle cx="139.82" cy="633.49" r="1.45" fill="#440154" fill-opacity="0.42"/>
<circle cx="93.97" cy="751.44" r="1.45" fill="#440154" fill-opacity="0.42"/>
<circle cx="152.93" cy="717.04" r="1.45" fill="#FDE725" fill-opacity="0.45"/>
<circle cx="152.93" cy="643.31" r="1.45" fill="#440154" fill-opacity="0.42"/>
<circle cx="103.8" cy="643.31" r="1.45" fill="#FDE725" fill-opacity="0.45"/>
<circle cx="80.88" cy="726.87" r="1.45" fill="#FDE725" fill-opacity="0.45"/>
<circle cx="116.9" cy="692.46" r="1.45" fill="#FDE725" fill-opacity="0.45"/>
<circle cx="74.32" cy="712.12" r="1.45" fill="#FDE725" fill-opacity="0.45"/>
<circle cx="93.97" cy="741.62" r="1.45" fill="#FDE725" fill-opacity="0.45"/>
<circle cx="54.67" cy="672.8" r="1.45" fill="#FDE725" fill-opacity="0.45"/>
<circle cx="143.1" cy="692.46" r="1.45" fill="#440154" fill-opacity="0.42"/>
<circle cx="97.25" cy="618.74" r="1.45" fill="#FDE725" fill-opacity="0.45"/>
<circle cx="54.67" cy="717.04" r="1.45" fill="#440154" fill-opacity="0.42"/>
<circle cx="80.88" cy="643.31" r="1.45" fill="#440154" fill-opacity="0.42"/>
<circle cx="48.12" cy="717.04" r="1.45" fill="#440154" fill-opacity="0.42"/>
<circle cx="116.9" cy="672.8" r="1.45" fill="#FDE725" fill-opacity="0.45"/>
<circle cx="162.75" cy="613.82" r="1.45" fill="#FDE725" fill-opacity="0.45"/>
<circle cx="57.95" cy="658.06" r="1.45" fill="#440154" fill-opacity="0.42"/>
<circle cx="172.57" cy="726.87" r="1.45" fill="#FDE725" fill-opacity="0.45"/>
<circle cx="143.1" cy="751.44" r="1.45" fill="#FDE725" fill-opacity="0.45"/>
<circle cx="80.88" cy="672.8" r="1.45" fill="#FDE725" fill-opacity="0.45"/>
<circle cx="97.25" cy="618.74" r="1.45" fill="#FDE725" fill-opacity="0.45"/>
<circle cx="90.7" cy="599.08" r="1.45" fill="#FDE725" fill-opacity="0.45"/>
<circle cx="61.22" cy="692.46" r="1.45" fill="#440154" fill-opacity="0.42"/>
<circle cx="90.7" cy="618.74" r="1.45" fill="#FDE725" fill-opacity="0.45"/>
<circle cx="31.75" cy="672.8" r="1.45" fill="#FDE725" fill-opacity="0.45"/>
<circle cx="44.85" cy="608.91" r="1.45" fill="#FDE725" fill-opacity="0.45"/>
<circle cx="84.15" cy="589.25" r="1.45" fill="#FDE725" fill-opacity="0.45"/>
<circle cx="172.57" cy="692.46" r="1.45" fill="#FDE725" fill-opacity="0.45"/>
<circle cx="97.25" cy="643.31" r="1.45" fill="#FDE725" fill-opacity="0.45"/>
<circle cx="126.72" cy="746.53" r="1.45" fill="#440154" fill-opacity="0.42"/>
<circle cx="195.5" cy="800.6" r="1.45" fill="#FDE725" fill-opacity="0.45"/>
<circle cx="136.55" cy="771.11" r="1.45" fill="#440154" fill-opacity="0.42"/>
<circle cx="130" cy="658.06" r="1.45" fill="#FDE725" fill-opacity="0.45"/>
<circle cx="202.05" cy="707.21" r="1.45" fill="#FDE725" fill-opacity="0.45"/>
<circle cx="179.12" cy="771.11" r="1.45" fill="#440154" fill-opacity="0.42"/>
<circle cx="87.42" cy="721.95" r="1.45" fill="#FDE725" fill-opacity="0.45"/>
<circle cx="71.05" cy="604" r="1.45" fill="#440154" fill-opacity="0.42"/>
<circle cx="182.4" cy="672.8" r="1.45" fill="#FDE725" fill-opacity="0.45"/>
<circle cx="179.12" cy="741.62" r="1.45" fill="#440154" fill-opacity="0.42"/>
<circle cx="116.9" cy="707.21" r="1.45" fill="#FDE725" fill-opacity="0.45"/>
<circle cx="107.07" cy="653.14" r="1.45" fill="#FDE725" fill-opacity="0.45"/>
<circle cx="97.25" cy="731.78" r="1.45" fill="#440154" fill-opacity="0.42"/>
<circle cx="179.12" cy="751.44" r="1.45" fill="#FDE725" fill-opacity="0.45"/>
<circle cx="130" cy="613.82" r="1.45" fill="#FDE725" fill-opacity="0.45"/>
<circle cx="182.4" cy="677.72" r="1.45" fill="#440154" fill-opacity="0.42"/>
<circle cx="113.62" cy="677.72" r="1.45" fill="#FDE725" fill-opacity="0.45"/>
<circle cx="67.77" cy="746.53" r="1.45" fill="#FDE725" fill-opacity="0.45"/>
<circle cx="64.5" cy="662.98" r="1.45" fill="#440154" fill-opacity="0.42"/>
<circle cx="57.95" cy="662.98" r="1.45" fill="#440154" fill-opacity="0.42"/>
<circle cx="169.3" cy="648.23" r="1.45" fill="#FDE725" fill-opacity="0.45"/>
<circle cx="159.47" cy="721.95" r="1.45" fill="#FDE725" fill-opacity="0.45"/>
<circle cx="107.07" cy="736.7" r="1.45" fill="#FDE725" fill-opacity="0.45"/>
<circle cx="87.42" cy="653.14" r="1.45" fill="#440154" fill-opacity="0.42"/>
<circle cx="185.68" cy="717.04" r="1.45" fill="#440154" fill-opacity="0.42"/>
<circle cx="218.43" cy="702.29" r="1.45" fill="#FDE725" fill-opacity="0.45"/>
<circle cx="100.53" cy="564.67" r="1.45" fill="#FDE725" fill-opacity="0.45"/>
<circle cx="136.55" cy="712.12" r="1.45" fill="#440154" fill-opacity="0.42"/>
<circle cx="146.38" cy="746.53" r="1.45" fill="#FDE725" fill-opacity="0.45"/>
<circle cx="149.65" cy="623.65" r="1.45" fill="#FDE725" fill-opacity="0.45"/>
<circle cx="143.1" cy="697.38" r="1.45" fill="#440154" fill-opacity="0.42"/>
<circle cx="166.02" cy="682.63" r="1.45" fill="#FDE725" fill-opacity="0.45"/>
<circle cx="205.32" cy="741.62" r="1.45" fill="#FDE725" fill-opacity="0.45"/>
<circle cx="143.1" cy="687.55" r="1.45" fill="#FDE725" fill-opacity="0.45"/>
<circle cx="61.22" cy="633.49" r="1.45" fill="#FDE725" fill-opacity="0.45"/>
<circle cx="64.5" cy="721.95" r="1.45" fill="#440154" fill-opacity="0.42"/>
<circle cx="35.02" cy="682.63" r="1.45" fill="#440154" fill-opacity="0.42"/>
<circle cx="35.02" cy="599.08" r="1.45" fill="#FDE725" fill-opacity="0.45"/>
<circle cx="195.5" cy="771.11" r="1.45" fill="#440154" fill-opacity="0.42"/>
<circle cx="166.02" cy="564.67" r="1.45" fill="#FDE725" fill-opacity="0.45"/>
<circle cx="61.22" cy="648.23" r="1.45" fill="#440154" fill-opacity="0.42"/>
<circle cx="87.42" cy="633.49" r="1.45" fill="#FDE725" fill-opacity="0.45"/>
<circle cx="166.02" cy="604" r="1.45" fill="#FDE725" fill-opacity="0.45"/>
<circle cx="133.27" cy="702.29" r="1.45" fill="#FDE725" fill-opacity="0.45"/>
<circle cx="185.68" cy="677.72" r="1.45" fill="#440154" fill-opacity="0.42"/>
<circle cx="169.3" cy="682.63" r="1.45" fill="#FDE725" fill-opacity="0.45"/>
<circle cx="74.32" cy="677.72" r="1.45" fill="#FDE725" fill-opacity="0.45"/>
<circle cx="100.53" cy="638.4" r="1.45" fill="#FDE725" fill-opacity="0.45"/>
<circle cx="110.35" cy="618.74" r="1.45" fill="#440154" fill-opacity="0.42"/>
<circle cx="152.93" cy="766.19" r="1.45" fill="#FDE725" fill-opacity="0.45"/>
<circle cx="130" cy="697.38" r="1.45" fill="#440154" fill-opacity="0.42"/>
<circle cx="113.62" cy="589.25" r="1.45" fill="#440154" fill-opacity="0.42"/>
<circle cx="113.62" cy="672.8" r="1.45" fill="#440154" fill-opacity="0.42"/>
<circle cx="74.32" cy="628.57" r="1.45" fill="#FDE725" fill-opacity="0.45"/>
<circle cx="120.17" cy="667.89" r="1.45" fill="#FDE725" fill-opacity="0.45"/>
<circle cx="54.67" cy="687.55" r="1.45" fill="#440154" fill-opacity="0.42"/>
<circle cx="35.02" cy="633.49" r="1.45" fill="#FDE725" fill-opacity="0.45"/>
<circle cx="238.07" cy="776.02" r="1.45" fill="#440154" fill-opacity="0.42"/>
<circle cx="57.95" cy="643.31" r="1.45" fill="#FDE725" fill-opacity="0.45"/>
<circle cx="31.75" cy="648.23" r="1.45" fill="#440154" fill-opacity="0.42"/>
<circle cx="156.2" cy="667.89" r="1.45" fill="#FDE725" fill-opacity="0.45"/>
<circle cx="113.62" cy="638.4" r="1.45" fill="#FDE725" fill-opacity="0.45"/>
<circle cx="67.77" cy="658.06" r="1.45" fill="#440154" fill-opacity="0.42"/>
<circle cx="133.27" cy="717.04" r="1.45" fill="#440154" fill-opacity="0.42"/>
<circle cx="41.57" cy="628.57" r="1.45" fill="#440154" fill-opacity="0.42"/>
<circle cx="139.82" cy="628.57" r="1.45" fill="#FDE725" fill-opacity="0.45"/>
<circle cx="162.75" cy="692.46" r="1.45" fill="#440154" fill-opacity="0.42"/>
<circle cx="87.42" cy="559.76" r="1.45" fill="#FDE725" fill-opacity="0.45"/>
<circle cx="188.95" cy="692.46" r="1.45" fill="#440154" fill-opacity="0.42"/>
<circle cx="182.4" cy="677.72" r="1.45" fill="#440154" fill-opacity="0.42"/>
<circle cx="202.05" cy="780.93" r="1.45" fill="#FDE725" fill-opacity="0.45"/>
<circle cx="159.47" cy="780.93" r="1.45" fill="#FDE725" fill-opacity="0.45"/>
<circle cx="172.57" cy="707.21" r="1.45" fill="#440154" fill-opacity="0.42"/>
<circle cx="84.15" cy="584.34" r="1.45" fill="#440154" fill-opacity="0.42"/>
<circle cx="136.55" cy="756.36" r="1.45" fill="#440154" fill-opacity="0.42"/>
<circle cx="90.7" cy="697.38" r="1.45" fill="#FDE725" fill-opacity="0.45"/>
<circle cx="54.67" cy="662.98" r="1.45" fill="#440154" fill-opacity="0.42"/>
<circle cx="38.3" cy="604" r="1.45" fill="#FDE725" fill-opacity="0.45"/>
<circle cx="188.95" cy="702.29" r="1.45" fill="#FDE725" fill-opacity="0.45"/>
<circle cx="146.38" cy="628.57" r="1.45" fill="#FDE725" fill-opacity="0.45"/>
<circle cx="84.15" cy="682.63" r="1.45" fill="#440154" fill-opacity="0.42"/>
<circle cx="126.72" cy="658.06" r="1.45" fill="#FDE725" fill-opacity="0.45"/>
<circle cx="48.12" cy="648.23" r="1.45" fill="#440154" fill-opacity="0.42"/>
<circle cx="84.15" cy="658.06" r="1.45" fill="#FDE725" fill-opacity="0.45"/>
<circle cx="133.27" cy="702.29" r="1.45" fill="#440154" fill-opacity="0.42"/>
<circle cx="93.97" cy="697.38" r="1.45" fill="#FDE725" fill-opacity="0.45"/>
<circle cx="120.17" cy="662.98" r="1.45" fill="#FDE725" fill-opacity="0.45"/>
<circle cx="38.3" cy="623.65" r="1.45" fill="#FDE725" fill-opacity="0.45"/>
<circle cx="74.32" cy="687.55" r="1.45" fill="#440154" fill-opacity="0.42"/>
<circle cx="90.7" cy="682.63" r="1.45" fill="#FDE725" fill-opacity="0.45"/>
<circle cx="143.1" cy="662.98" r="1.45" fill="#FDE725" fill-opacity="0.45"/>
<circle cx="179.12" cy="736.7" r="1.45" fill="#440154" fill-opacity="0.42"/>
<circle cx="31.75" cy="653.14" r="1.45" fill="#440154" fill-opacity="0.42"/>
<circle cx="35.02" cy="648.23" r="1.45" fill="#440154" fill-opacity="0.42"/>
<circle cx="64.5" cy="613.82" r="1.45" fill="#440154" fill-opacity="0.42"/>
<circle cx="143.1" cy="741.62" r="1.45" fill="#FDE725" fill-opacity="0.45"/>
<circle cx="84.15" cy="618.74" r="1.45" fill="#440154" fill-opacity="0.42"/>
<circle cx="149.65" cy="746.53" r="1.45" fill="#FDE725" fill-opacity="0.45"/>
<circle cx="166.02" cy="717.04" r="1.45" fill="#440154" fill-opacity="0.42"/>
<circle cx="110.35" cy="653.14" r="1.45" fill="#FDE725" fill-opacity="0.45"/>
<circle cx="48.12" cy="677.72" r="1.45" fill="#440154" fill-opacity="0.42"/>
<circle cx="54.67" cy="721.95" r="1.45" fill="#440154" fill-opacity="0.42"/>
<circle cx="120.17" cy="707.21" r="1.45" fill="#440154" fill-opacity="0.42"/>
<circle cx="107.07" cy="746.53" r="1.45" fill="#440154" fill-opacity="0.42"/>
<circle cx="202.05" cy="771.11" r="1.45" fill="#FDE725" fill-opacity="0.45"/>
<circle cx="77.6" cy="643.31" r="1.45" fill="#440154" fill-opacity="0.42"/>
<circle cx="100.53" cy="672.8" r="1.45" fill="#FDE725" fill-opacity="0.45"/>
<circle cx="126.72" cy="746.53" r="1.45" fill="#440154" fill-opacity="0.42"/>
<circle cx="110.35" cy="712.12" r="1.45" fill="#440154" fill-opacity="0.42"/>
<circle cx="139.82" cy="672.8" r="1.45" fill="#440154" fill-opacity="0.42"/>
<circle cx="152.93" cy="756.36" r="1.45" fill="#FDE725" fill-opacity="0.45"/>
<circle cx="136.55" cy="766.19" r="1.45" fill="#440154" fill-opacity="0.42"/>
<circle cx="116.9" cy="662.98" r="1.45" fill="#FDE725" fill-opacity="0.45"/>
<circle cx="182.4" cy="736.7" r="1.45" fill="#440154" fill-opacity="0.42"/>
<circle cx="77.6" cy="559.76" r="1.45" fill="#FDE725" fill-opacity="0.45"/>
<circle cx="130" cy="726.87" r="1.45" fill="#FDE725" fill-opacity="0.45"/>
<circle cx="74.32" cy="613.82" r="1.45" fill="#440154" fill-opacity="0.42"/>
<circle cx="175.85" cy="761.27" r="1.45" fill="#FDE725" fill-opacity="0.45"/>
<circle cx="130" cy="677.72" r="1.45" fill="#FDE725" fill-opacity="0.45"/>
<circle cx="172.57" cy="761.27" r="1.45" fill="#440154" fill-opacity="0.42"/>
<circle cx="139.82" cy="731.78" r="1.45" fill="#440154" fill-opacity="0.42"/>
<circle cx="84.15" cy="648.23" r="1.45" fill="#440154" fill-opacity="0.42"/>
<circle cx="97.25" cy="648.23" r="1.45" fill="#440154" fill-opacity="0.42"/>
<circle cx="64.5" cy="579.42" r="1.45" fill="#FDE725" fill-opacity="0.45"/>
<circle cx="71.05" cy="613.82" r="1.45" fill="#FDE725" fill-opacity="0.45"/>
<circle cx="130" cy="672.8" r="1.45" fill="#440154" fill-opacity="0.42"/>
<circle cx="100.53" cy="608.91" r="1.45" fill="#FDE725" fill-opacity="0.45"/>
<circle cx="90.7" cy="736.7" r="1.45" fill="#440154" fill-opacity="0.42"/>
<circle cx="100.53" cy="766.19" r="1.45" fill="#440154" fill-opacity="0.42"/>
<circle cx="136.55" cy="726.87" r="1.45" fill="#440154" fill-opacity="0.42"/>
<circle cx="54.67" cy="717.04" r="1.45" fill="#440154" fill-opacity="0.42"/>
<circle cx="152.93" cy="756.36" r="1.45" fill="#440154" fill-opacity="0.42"/>
<circle cx="182.4" cy="667.89" r="1.45" fill="#440154" fill-opacity="0.42"/>
<circle cx="156.2" cy="643.31" r="1.45" fill="#FDE725" fill-opacity="0.45"/>
<circle cx="133.27" cy="707.21" r="1.45" fill="#FDE725" fill-opacity="0.45"/>
<circle cx="64.5" cy="687.55" r="1.45" fill="#FDE725" fill-opacity="0.45"/>
<circle cx="71.05" cy="628.57" r="1.45" fill="#FDE725" fill-opacity="0.45"/>
<circle cx="97.25" cy="756.36" r="1.45" fill="#440154" fill-opacity="0.42"/>
<circle cx="116.9" cy="707.21" r="1.45" fill="#440154" fill-opacity="0.42"/>
<circle cx="93.97" cy="707.21" r="1.45" fill="#440154" fill-opacity="0.42"/>
<circle cx="185.68" cy="638.4" r="1.45" fill="#440154" fill-opacity="0.42"/>
<circle cx="113.62" cy="731.78" r="1.45" fill="#440154" fill-opacity="0.42"/>
<circle cx="116.9" cy="756.36" r="1.45" fill="#FDE725" fill-opacity="0.45"/>
<circle cx="93.97" cy="628.57" r="1.45" fill="#440154" fill-opacity="0.42"/>
<circle cx="67.77" cy="687.55" r="1.45" fill="#440154" fill-opacity="0.42"/>
<circle cx="152.93" cy="687.55" r="1.45" fill="#FDE725" fill-opacity="0.45"/>
<circle cx="54.67" cy="623.65" r="1.45" fill="#FDE725" fill-opacity="0.45"/>
<circle cx="90.7" cy="697.38" r="1.45" fill="#440154" fill-opacity="0.42"/>
<circle cx="116.9" cy="618.74" r="1.45" fill="#FDE725" fill-opacity="0.45"/>
<circle cx="175.85" cy="805.51" r="1.45" fill="#440154" fill-opacity="0.42"/>
<circle cx="152.93" cy="667.89" r="1.45" fill="#440154" fill-opacity="0.42"/>
<circle cx="166.02" cy="756.36" r="1.45" fill="#440154" fill-opacity="0.42"/>
<circle cx="100.53" cy="530.27" r="1.45" fill="#FDE725" fill-opacity="0.45"/>
<circle cx="51.4" cy="658.06" r="1.45" fill="#FDE725" fill-opacity="0.45"/>
<circle cx="107.07" cy="707.21" r="1.45" fill="#440154" fill-opacity="0.42"/>
<circle cx="77.6" cy="594.16" r="1.45" fill="#440154" fill-opacity="0.42"/>
<circle cx="103.8" cy="638.4" r="1.45" fill="#FDE725" fill-opacity="0.45"/>
<circle cx="74.32" cy="736.7" r="1.45" fill="#440154" fill-opacity="0.42"/>
<circle cx="146.38" cy="780.93" r="1.45" fill="#440154" fill-opacity="0.42"/>
<circle cx="205.32" cy="731.78" r="1.45" fill="#440154" fill-opacity="0.42"/>
<circle cx="84.15" cy="682.63" r="1.45" fill="#FDE725" fill-opacity="0.45"/>
<circle cx="31.75" cy="604" r="1.45" fill="#440154" fill-opacity="0.42"/>
<circle cx="35.02" cy="589.25" r="1.45" fill="#FDE725" fill-opacity="0.45"/>
<circle cx="182.4" cy="672.8" r="1.45" fill="#FDE725" fill-opacity="0.45"/>
<circle cx="87.42" cy="751.44" r="1.45" fill="#440154" fill-opacity="0.42"/>
<circle cx="100.53" cy="584.34" r="1.45" fill="#440154" fill-opacity="0.42"/>
<circle cx="172.57" cy="672.8" r="1.45" fill="#FDE725" fill-opacity="0.45"/>
<circle cx="38.3" cy="613.82" r="1.45" fill="#440154" fill-opacity="0.42"/>
<circle cx="175.85" cy="628.57" r="1.45" fill="#440154" fill-opacity="0.42"/>
<circle cx="57.95" cy="677.72" r="1.45" fill="#440154" fill-opacity="0.42"/>
<circle cx="133.27" cy="756.36" r="1.45" fill="#FDE725" fill-opacity="0.45"/>
<circle cx="159.47" cy="672.8" r="1.45" fill="#440154" fill-opacity="0.42"/>
<circle cx="57.95" cy="672.8" r="1.45" fill="#440154" fill-opacity="0.42"/>
<circle cx="195.5" cy="761.27" r="1.45" fill="#FDE725" fill-opacity="0.45"/>
<circle cx="48.12" cy="608.91" r="1.45" fill="#440154" fill-opacity="0.42"/>
<circle cx="231.52" cy="741.62" r="1.45" fill="#440154" fill-opacity="0.42"/>
<circle cx="35.02" cy="613.82" r="1.45" fill="#FDE725" fill-opacity="0.45"/>
<circle cx="116.9" cy="667.89" r="1.45" fill="#FDE725" fill-opacity="0.45"/>
<circle cx="80.88" cy="687.55" r="1.45" fill="#440154" fill-opacity="0.42"/>
<circle cx="84.15" cy="608.91" r="1.45" fill="#FDE725" fill-opacity="0.45"/>
<circle cx="48.12" cy="731.78" r="1.45" fill="#440154" fill-opacity="0.42"/>
<circle cx="202.05" cy="746.53" r="1.45" fill="#FDE725" fill-opacity="0.45"/>
<circle cx="143.1" cy="771.11" r="1.45" fill="#440154" fill-opacity="0.42"/>
<circle cx="57.95" cy="604" r="1.45" fill="#FDE725" fill-opacity="0.45"/>
<circle cx="38.3" cy="648.23" r="1.45" fill="#FDE725" fill-opacity="0.45"/>
<circle cx="77.6" cy="707.21" r="1.45" fill="#440154" fill-opacity="0.42"/>
<circle cx="57.95" cy="633.49" r="1.45" fill="#440154" fill-opacity="0.42"/>
<circle cx="74.32" cy="569.59" r="1.45" fill="#FDE725" fill-opacity="0.45"/>
<circle cx="169.3" cy="746.53" r="1.45" fill="#440154" fill-opacity="0.42"/>
<circle cx="71.05" cy="633.49" r="1.45" fill="#FDE725" fill-opacity="0.45"/>
<circle cx="215.15" cy="721.95" r="1.45" fill="#440154" fill-opacity="0.42"/>
<circle cx="123.45" cy="687.55" r="1.45" fill="#FDE725" fill-opacity="0.45"/>
<circle cx="64.5" cy="658.06" r="1.45" fill="#440154" fill-opacity="0.42"/>
<circle cx="48.12" cy="574.5" r="1.45" fill="#FDE725" fill-opacity="0.45"/>
<circle cx="205.32" cy="761.27" r="1.45" fill="#440154" fill-opacity="0.42"/>
<circle cx="182.4" cy="751.44" r="1.45" fill="#440154" fill-opacity="0.42"/>
<circle cx="133.27" cy="658.06" r="1.45" fill="#FDE725" fill-opacity="0.45"/>
<circle cx="185.68" cy="756.36" r="1.45" fill="#FDE725" fill-opacity="0.45"/>
<circle cx="152.93" cy="623.65" r="1.45" fill="#FDE725" fill-opacity="0.45"/>
<circle cx="80.88" cy="643.31" r="1.45" fill="#440154" fill-opacity="0.42"/>
<circle cx="51.4" cy="702.29" r="1.45" fill="#440154" fill-opacity="0.42"/>
<circle cx="90.7" cy="692.46" r="1.45" fill="#440154" fill-opacity="0.42"/>
<circle cx="202.05" cy="776.02" r="1.45" fill="#FDE725" fill-opacity="0.45"/>
<circle cx="126.72" cy="721.95" r="1.45" fill="#FDE725" fill-opacity="0.45"/>
<circle cx="130" cy="751.44" r="1.45" fill="#FDE725" fill-opacity="0.45"/>
<circle cx="35.02" cy="584.34" r="1.45" fill="#FDE725" fill-opacity="0.45"/>
<circle cx="110.35" cy="731.78" r="1.45" fill="#FDE725" fill-opacity="0.45"/>
<circle cx="97.25" cy="697.38" r="1.45" fill="#FDE725" fill-opacity="0.45"/>
<circle cx="159.47" cy="741.62" r="1.45" fill="#FDE725" fill-opacity="0.45"/>
<circle cx="103.8" cy="702.29" r="1.45" fill="#FDE725" fill-opacity="0.45"/>
<circle cx="103.8" cy="687.55" r="1.45" fill="#440154" fill-opacity="0.42"/>
<circle cx="51.4" cy="623.65" r="1.45" fill="#FDE725" fill-opacity="0.45"/>
<circle cx="185.68" cy="746.53" r="1.45" fill="#440154" fill-opacity="0.42"/>
<circle cx="126.72" cy="569.59" r="1.45" fill="#440154" fill-opacity="0.42"/>
<circle cx="179.12" cy="682.63" r="1.45" fill="#FDE725" fill-opacity="0.45"/>
<circle cx="44.85" cy="667.89" r="1.45" fill="#FDE725" fill-opacity="0.45"/>
<circle cx="64.5" cy="667.89" r="1.45" fill="#440154" fill-opacity="0.42"/>
<circle cx="84.15" cy="677.72" r="1.45" fill="#440154" fill-opacity="0.42"/>
<circle cx="97.25" cy="604" r="1.45" fill="#FDE725" fill-opacity="0.45"/>
<circle cx="103.8" cy="672.8" r="1.45" fill="#FDE725" fill-opacity="0.45"/>
<circle cx="84.15" cy="717.04" r="1.45" fill="#440154" fill-opacity="0.42"/>
<circle cx="107.07" cy="697.38" r="1.45" fill="#FDE725" fill-opacity="0.45"/>
<circle cx="195.5" cy="702.29" r="1.45" fill="#440154" fill-opacity="0.42"/>
<circle cx="71.05" cy="697.38" r="1.45" fill="#440154" fill-opacity="0.42"/>
<circle cx="224.97" cy="702.29" r="1.45" fill="#440154" fill-opacity="0.42"/>
<circle cx="192.22" cy="736.7" r="1.45" fill="#FDE725" fill-opacity="0.45"/>
<circle cx="126.72" cy="682.63" r="1.45" fill="#440154" fill-opacity="0.42"/>
<circle cx="64.5" cy="741.62" r="1.45" fill="#FDE725" fill-opacity="0.45"/>
<circle cx="80.88" cy="648.23" r="1.45" fill="#440154" fill-opacity="0.42"/>
<circle cx="182.4" cy="707.21" r="1.45" fill="#FDE725" fill-opacity="0.45"/>
<circle cx="169.3" cy="628.57" r="1.45" fill="#440154" fill-opacity="0.42"/>
<circle cx="97.25" cy="741.62" r="1.45" fill="#440154" fill-opacity="0.42"/>
<circle cx="146.38" cy="692.46" r="1.45" fill="#FDE725" fill-opacity="0.45"/>
<circle cx="31.75" cy="717.04" r="1.45" fill="#FDE725" fill-opacity="0.45"/>
<circle cx="133.27" cy="682.63" r="1.45" fill="#FDE725" fill-opacity="0.45"/>
<circle cx="133.27" cy="746.53" r="1.45" fill="#FDE725" fill-opacity="0.45"/>
<circle cx="97.25" cy="623.65" r="1.45" fill="#FDE725" fill-opacity="0.45"/>
<circle cx="169.3" cy="726.87" r="1.45" fill="#FDE725" fill-opacity="0.45"/>
<circle cx="130" cy="662.98" r="1.45" fill="#440154" fill-opacity="0.42"/>
<circle cx="100.53" cy="746.53" r="1.45" fill="#FDE725" fill-opacity="0.45"/>
<circle cx="169.3" cy="692.46" r="1.45" fill="#440154" fill-opacity="0.42"/>
<circle cx="74.32" cy="653.14" r="1.45" fill="#440154" fill-opacity="0.42"/>
<circle cx="120.17" cy="638.4" r="1.45" fill="#440154" fill-opacity="0.42"/>
<circle cx="97.25" cy="628.57" r="1.45" fill="#440154" fill-opacity="0.42"/>
<circle cx="54.67" cy="658.06" r="1.45" fill="#440154" fill-opacity="0.42"/>
<circle cx="175.85" cy="712.12" r="1.45" fill="#440154" fill-opacity="0.42"/>
<circle cx="143.1" cy="717.04" r="1.45" fill="#FDE725" fill-opacity="0.45"/>
<circle cx="120.17" cy="648.23" r="1.45" fill="#FDE725" fill-opacity="0.45"/>
<circle cx="93.97" cy="648.23" r="1.45" fill="#FDE725" fill-opacity="0.45"/>
<circle cx="192.22" cy="707.21" r="1.45" fill="#FDE725" fill-opacity="0.45"/>
<circle cx="67.77" cy="638.4" r="1.45" fill="#FDE725" fill-opacity="0.45"/>
<circle cx="38.3" cy="628.57" r="1.45" fill="#440154" fill-opacity="0.42"/>
<circle cx="188.95" cy="697.38" r="1.45" fill="#440154" fill-opacity="0.42"/>
<circle cx="116.9" cy="731.78" r="1.45" fill="#440154" fill-opacity="0.42"/>
<circle cx="93.97" cy="672.8" r="1.45" fill="#FDE725" fill-opacity="0.45"/>
<circle cx="38.3" cy="692.46" r="1.45" fill="#440154" fill-opacity="0.42"/>
<circle cx="136.55" cy="746.53" r="1.45" fill="#440154" fill-opacity="0.42"/>
<circle cx="130" cy="707.21" r="1.45" fill="#FDE725" fill-opacity="0.45"/>
<circle cx="107.07" cy="633.49" r="1.45" fill="#FDE725" fill-opacity="0.45"/>
<circle cx="64.5" cy="692.46" r="1.45" fill="#440154" fill-opacity="0.42"/>
<circle cx="182.4" cy="697.38" r="1.45" fill="#440154" fill-opacity="0.42"/>
<circle cx="48.12" cy="672.8" r="1.45" fill="#440154" fill-opacity="0.42"/>
<circle cx="77.6" cy="682.63" r="1.45" fill="#440154" fill-opacity="0.42"/>
<circle cx="93.97" cy="618.74" r="1.45" fill="#440154" fill-opacity="0.42"/>
<circle cx="162.75" cy="712.12" r="1.45" fill="#440154" fill-opacity="0.42"/>
<circle cx="139.82" cy="790.76" r="1.45" fill="#440154" fill-opacity="0.42"/>
<circle cx="80.88" cy="604" r="1.45" fill="#440154" fill-opacity="0.42"/>
<circle cx="87.42" cy="648.23" r="1.45" fill="#440154" fill-opacity="0.42"/>
<circle cx="64.5" cy="608.91" r="1.45" fill="#FDE725" fill-opacity="0.45"/>
<circle cx="80.88" cy="594.16" r="1.45" fill="#FDE725" fill-opacity="0.45"/>
<circle cx="156.2" cy="741.62" r="1.45" fill="#FDE725" fill-opacity="0.45"/>
<circle cx="87.42" cy="628.57" r="1.45" fill="#440154" fill-opacity="0.42"/>
<circle cx="110.35" cy="633.49" r="1.45" fill="#FDE725" fill-opacity="0.45"/>
<circle cx="80.88" cy="653.14" r="1.45" fill="#440154" fill-opacity="0.42"/>
<circle cx="84.15" cy="633.49" r="1.45" fill="#FDE725" fill-opacity="0.45"/>
<circle cx="156.2" cy="717.04" r="1.45" fill="#440154" fill-opacity="0.42"/>
<circle cx="202.05" cy="746.53" r="1.45" fill="#440154" fill-opacity="0.42"/>
<circle cx="35.02" cy="628.57" r="1.45" fill="#FDE725" fill-opacity="0.45"/>
<circle cx="71.05" cy="594.16" r="1.45" fill="#440154" fill-opacity="0.42"/>
<circle cx="116.9" cy="736.7" r="1.45" fill="#FDE725" fill-opacity="0.45"/>
<circle cx="123.45" cy="736.7" r="1.45" fill="#FDE725" fill-opacity="0.45"/>
<circle cx="172.57" cy="771.11" r="1.45" fill="#440154" fill-opacity="0.42"/>
<circle cx="113.62" cy="653.14" r="1.45" fill="#FDE725" fill-opacity="0.45"/>
<circle cx="110.35" cy="672.8" r="1.45" fill="#FDE725" fill-opacity="0.45"/>
<circle cx="143.1" cy="712.12" r="1.45" fill="#440154" fill-opacity="0.42"/>
<circle cx="133.27" cy="672.8" r="1.45" fill="#FDE725" fill-opacity="0.45"/>
<circle cx="159.47" cy="717.04" r="1.45" fill="#440154" fill-opacity="0.42"/>
<circle cx="159.47" cy="658.06" r="1.45" fill="#FDE725" fill-opacity="0.45"/>
<circle cx="107.07" cy="648.23" r="1.45" fill="#FDE725" fill-opacity="0.45"/>
<circle cx="100.53" cy="658.06" r="1.45" fill="#440154" fill-opacity="0.42"/>
<circle cx="133.27" cy="746.53" r="1.45" fill="#440154" fill-opacity="0.42"/>
<circle cx="93.97" cy="628.57" r="1.45" fill="#FDE725" fill-opacity="0.45"/>
<circle cx="67.77" cy="604" r="1.45" fill="#FDE725" fill-opacity="0.45"/>
<circle cx="67.77" cy="662.98" r="1.45" fill="#440154" fill-opacity="0.42"/>
<circle cx="149.65" cy="682.63" r="1.45" fill="#440154" fill-opacity="0.42"/>
<circle cx="87.42" cy="697.38" r="1.45" fill="#440154" fill-opacity="0.42"/>
<circle cx="123.45" cy="682.63" r="1.45" fill="#440154" fill-opacity="0.42"/>
<circle cx="35.02" cy="608.91" r="1.45" fill="#FDE725" fill-opacity="0.45"/>
<circle cx="77.6" cy="687.55" r="1.45" fill="#FDE725" fill-opacity="0.45"/>
<circle cx="146.38" cy="579.42" r="1.45" fill="#FDE725" fill-opacity="0.45"/>
<circle cx="136.55" cy="741.62" r="1.45" fill="#FDE725" fill-opacity="0.45"/>
<circle cx="93.97" cy="604" r="1.45" fill="#FDE725" fill-opacity="0.45"/>
<circle cx="103.8" cy="746.53" r="1.45" fill="#440154" fill-opacity="0.42"/>
<circle cx="74.32" cy="569.59" r="1.45" fill="#440154" fill-opacity="0.42"/>
<circle cx="123.45" cy="662.98" r="1.45" fill="#440154" fill-opacity="0.42"/>
<circle cx="87.42" cy="751.44" r="1.45" fill="#440154" fill-opacity="0.42"/>
<circle cx="57.95" cy="712.12" r="1.45" fill="#440154" fill-opacity="0.42"/>
<circle cx="130" cy="643.31" r="1.45" fill="#FDE725" fill-opacity="0.45"/>
<circle cx="84.15" cy="687.55" r="1.45" fill="#FDE725" fill-opacity="0.45"/>
<circle cx="51.4" cy="648.23" r="1.45" fill="#440154" fill-opacity="0.42"/>
<circle cx="218.43" cy="707.21" r="1.45" fill="#440154" fill-opacity="0.42"/>
<circle cx="116.9" cy="633.49" r="1.45" fill="#FDE725" fill-opacity="0.45"/>
<circle cx="107.07" cy="741.62" r="1.45" fill="#440154" fill-opacity="0.42"/>
<circle cx="51.4" cy="589.25" r="1.45" fill="#440154" fill-opacity="0.42"/>
<circle cx="74.32" cy="545.01" r="1.45" fill="#FDE725" fill-opacity="0.45"/>
<circle cx="208.6" cy="756.36" r="1.45" fill="#440154" fill-opacity="0.42"/>
<circle cx="93.97" cy="692.46" r="1.45" fill="#FDE725" fill-opacity="0.45"/>
<circle cx="77.6" cy="633.49" r="1.45" fill="#FDE725" fill-opacity="0.45"/>
<circle cx="169.3" cy="697.38" r="1.45" fill="#FDE725" fill-opacity="0.45"/>
<circle cx="120.17" cy="736.7" r="1.45" fill="#440154" fill-opacity="0.42"/>
<circle cx="35.02" cy="618.74" r="1.45" fill="#FDE725" fill-opacity="0.45"/>
<circle cx="149.65" cy="721.95" r="1.45" fill="#440154" fill-opacity="0.42"/>
<circle cx="87.42" cy="643.31" r="1.45" fill="#FDE725" fill-opacity="0.45"/>
<circle cx="103.8" cy="692.46" r="1.45" fill="#440154" fill-opacity="0.42"/>
<circle cx="113.62" cy="721.95" r="1.45" fill="#FDE725" fill-opacity="0.45"/>
<circle cx="97.25" cy="741.62" r="1.45" fill="#440154" fill-opacity="0.42"/>
<circle cx="44.85" cy="672.8" r="1.45" fill="#FDE725" fill-opacity="0.45"/>
<circle cx="110.35" cy="717.04" r="1.45" fill="#440154" fill-opacity="0.42"/>
<circle cx="97.25" cy="658.06" r="1.45" fill="#440154" fill-opacity="0.42"/>
<circle cx="54.67" cy="653.14" r="1.45" fill="#FDE725" fill-opacity="0.45"/>
<circle cx="149.65" cy="672.8" r="1.45" fill="#FDE725" fill-opacity="0.45"/>
<circle cx="143.1" cy="653.14" r="1.45" fill="#FDE725" fill-opacity="0.45"/>
<circle cx="188.95" cy="717.04" r="1.45" fill="#FDE725" fill-opacity="0.45"/>
<circle cx="44.85" cy="662.98" r="1.45" fill="#FDE725" fill-opacity="0.45"/>
<circle cx="71.05" cy="721.95" r="1.45" fill="#FDE725" fill-opacity="0.45"/>
<circle cx="64.5" cy="584.34" r="1.45" fill="#FDE725" fill-opacity="0.45"/>
<circle cx="133.27" cy="653.14" r="1.45" fill="#440154" fill-opacity="0.42"/>
<circle cx="84.15" cy="731.78" r="1.45" fill="#440154" fill-opacity="0.42"/>
<circle cx="182.4" cy="746.53" r="1.45" fill="#FDE725" fill-opacity="0.45"/>
<circle cx="179.12" cy="736.7" r="1.45" fill="#440154" fill-opacity="0.42"/>
<circle cx="126.72" cy="653.14" r="1.45" fill="#440154" fill-opacity="0.42"/>
<circle cx="143.1" cy="677.72" r="1.45" fill="#440154" fill-opacity="0.42"/>
<circle cx="126.72" cy="746.53" r="1.45" fill="#440154" fill-opacity="0.42"/>
<circle cx="100.53" cy="633.49" r="1.45" fill="#FDE725" fill-opacity="0.45"/>
<circle cx="41.57" cy="702.29" r="1.45" fill="#440154" fill-opacity="0.42"/>
<circle cx="44.85" cy="618.74" r="1.45" fill="#440154" fill-opacity="0.42"/>
<circle cx="41.57" cy="692.46" r="1.45" fill="#440154" fill-opacity="0.42"/>
<circle cx="35.02" cy="633.49" r="1.45" fill="#440154" fill-opacity="0.42"/>
<circle cx="44.85" cy="687.55" r="1.45" fill="#440154" fill-opacity="0.42"/>
<circle cx="51.4" cy="697.38" r="1.45" fill="#FDE725" fill-opacity="0.45"/>
<circle cx="57.95" cy="545.01" r="1.45" fill="#440154" fill-opacity="0.42"/>
<circle cx="44.85" cy="613.82" r="1.45" fill="#FDE725" fill-opacity="0.45"/>
<circle cx="64.5" cy="648.23" r="1.45" fill="#440154" fill-opacity="0.42"/>
<circle cx="74.32" cy="672.8" r="1.45" fill="#440154" fill-opacity="0.42"/>
<circle cx="120.17" cy="726.87" r="1.45" fill="#440154" fill-opacity="0.42"/>
<circle cx="87.42" cy="776.02" r="1.45" fill="#FDE725" fill-opacity="0.45"/>
<circle cx="74.32" cy="648.23" r="1.45" fill="#FDE725" fill-opacity="0.45"/>
<circle cx="31.75" cy="589.25" r="1.45" fill="#FDE725" fill-opacity="0.45"/>
<circle cx="67.77" cy="717.04" r="1.45" fill="#FDE725" fill-opacity="0.45"/>
<circle cx="182.4" cy="731.78" r="1.45" fill="#FDE725" fill-opacity="0.45"/>
<circle cx="64.5" cy="628.57" r="1.45" fill="#440154" fill-opacity="0.42"/>
<circle cx="139.82" cy="707.21" r="1.45" fill="#440154" fill-opacity="0.42"/>
<circle cx="169.3" cy="692.46" r="1.45" fill="#FDE725" fill-opacity="0.45"/>
<circle cx="80.88" cy="589.25" r="1.45" fill="#FDE725" fill-opacity="0.45"/>
<circle cx="51.4" cy="692.46" r="1.45" fill="#440154" fill-opacity="0.42"/>
<circle cx="57.95" cy="638.4" r="1.45" fill="#440154" fill-opacity="0.42"/>
<circle cx="195.5" cy="726.87" r="1.45" fill="#FDE725" fill-opacity="0.45"/>
<circle cx="175.85" cy="751.44" r="1.45" fill="#FDE725" fill-opacity="0.45"/>
<circle cx="103.8" cy="662.98" r="1.45" fill="#440154" fill-opacity="0.42"/>
<circle cx="100.53" cy="677.72" r="1.45" fill="#440154" fill-opacity="0.42"/>
<circle cx="44.85" cy="584.34" r="1.45" fill="#FDE725" fill-opacity="0.45"/>
<circle cx="74.32" cy="638.4" r="1.45" fill="#FDE725" fill-opacity="0.45"/>
<circle cx="211.88" cy="746.53" r="1.45" fill="#440154" fill-opacity="0.42"/>
<circle cx="192.22" cy="677.72" r="1.45" fill="#FDE725" fill-opacity="0.45"/>
<circle cx="136.55" cy="717.04" r="1.45" fill="#FDE725" fill-opacity="0.45"/>
<circle cx="215.15" cy="707.21" r="1.45" fill="#FDE725" fill-opacity="0.45"/>
<circle cx="38.3" cy="643.31" r="1.45" fill="#440154" fill-opacity="0.42"/>
<circle cx="54.67" cy="545.01" r="1.45" fill="#FDE725" fill-opacity="0.45"/>
<circle cx="175.85" cy="677.72" r="1.45" fill="#440154" fill-opacity="0.42"/>
<circle cx="166.02" cy="692.46" r="1.45" fill="#440154" fill-opacity="0.42"/>
<circle cx="107.07" cy="717.04" r="1.45" fill="#FDE725" fill-opacity="0.45"/>
<circle cx="139.82" cy="756.36" r="1.45" fill="#440154" fill-opacity="0.42"/>
<circle cx="188.95" cy="697.38" r="1.45" fill="#FDE725" fill-opacity="0.45"/>
<circle cx="149.65" cy="707.21" r="1.45" fill="#440154" fill-opacity="0.42"/>
<circle cx="61.22" cy="628.57" r="1.45" fill="#FDE725" fill-opacity="0.45"/>
<circle cx="172.57" cy="687.55" r="1.45" fill="#440154" fill-opacity="0.42"/>
<circle cx="107.07" cy="653.14" r="1.45" fill="#440154" fill-opacity="0.42"/>
<circle cx="57.95" cy="667.89" r="1.45" fill="#440154" fill-opacity="0.42"/>
<circle cx="185.68" cy="776.02" r="1.45" fill="#440154" fill-opacity="0.42"/>
<circle cx="205.32" cy="736.7" r="1.45" fill="#FDE725" fill-opacity="0.45"/>
<circle cx="116.9" cy="653.14" r="1.45" fill="#FDE725" fill-opacity="0.45"/>
<circle cx="136.55" cy="623.65" r="1.45" fill="#FDE725" fill-opacity="0.45"/>
<circle cx="172.57" cy="746.53" r="1.45" fill="#FDE725" fill-opacity="0.45"/>
<circle cx="64.5" cy="618.74" r="1.45" fill="#440154" fill-opacity="0.42"/>
<circle cx="51.4" cy="613.82" r="1.45" fill="#440154" fill-opacity="0.42"/>
<circle cx="208.6" cy="746.53" r="1.45" fill="#FDE725" fill-opacity="0.45"/>
<circle cx="74.32" cy="736.7" r="1.45" fill="#FDE725" fill-opacity="0.45"/>
<circle cx="162.75" cy="697.38" r="1.45" fill="#FDE725" fill-opacity="0.45"/>
<circle cx="133.27" cy="608.91" r="1.45" fill="#440154" fill-opacity="0.42"/>
<circle cx="169.3" cy="717.04" r="1.45" fill="#FDE725" fill-opacity="0.45"/>
<circle cx="74.32" cy="830.09" r="1.45" fill="#FDE725" fill-opacity="0.45"/>
<circle cx="159.47" cy="697.38" r="1.45" fill="#FDE725" fill-opacity="0.45"/>
<circle cx="44.85" cy="594.16" r="1.45" fill="#FDE725" fill-opacity="0.45"/>
<circle cx="215.15" cy="682.63" r="1.45" fill="#440154" fill-opacity="0.42"/>
<circle cx="143.1" cy="628.57" r="1.45" fill="#FDE725" fill-opacity="0.45"/>
<circle cx="116.9" cy="677.72" r="1.45" fill="#FDE725" fill-opacity="0.45"/>
<circle cx="97.25" cy="662.98" r="1.45" fill="#FDE725" fill-opacity="0.45"/>
<circle cx="51.4" cy="633.49" r="1.45" fill="#440154" fill-opacity="0.42"/>
<circle cx="188.95" cy="643.31" r="1.45" fill="#FDE725" fill-opacity="0.45"/>
<circle cx="84.15" cy="633.49" r="1.45" fill="#FDE725" fill-opacity="0.45"/>
<circle cx="175.85" cy="736.7" r="1.45" fill="#440154" fill-opacity="0.42"/>
<circle cx="71.05" cy="658.06" r="1.45" fill="#FDE725" fill-opacity="0.45"/>
<circle cx="54.67" cy="667.89" r="1.45" fill="#440154" fill-opacity="0.42"/>
<circle cx="120.17" cy="776.02" r="1.45" fill="#440154" fill-opacity="0.42"/>
<circle cx="77.6" cy="599.08" r="1.45" fill="#440154" fill-opacity="0.42"/>
<circle cx="74.32" cy="599.08" r="1.45" fill="#FDE725" fill-opacity="0.45"/>
<circle cx="44.85" cy="687.55" r="1.45" fill="#440154" fill-opacity="0.42"/>
<circle cx="54.67" cy="633.49" r="1.45" fill="#440154" fill-opacity="0.42"/>
<circle cx="67.77" cy="643.31" r="1.45" fill="#FDE725" fill-opacity="0.45"/>
<circle cx="87.42" cy="623.65" r="1.45" fill="#440154" fill-opacity="0.42"/>
<circle cx="64.5" cy="682.63" r="1.45" fill="#FDE725" fill-opacity="0.45"/>
<circle cx="139.82" cy="643.31" r="1.45" fill="#440154" fill-opacity="0.42"/>
<circle cx="133.27" cy="751.44" r="1.45" fill="#440154" fill-opacity="0.42"/>
<circle cx="185.68" cy="643.31" r="1.45" fill="#FDE725" fill-opacity="0.45"/>
<circle cx="139.82" cy="746.53" r="1.45" fill="#440154" fill-opacity="0.42"/>
<circle cx="100.53" cy="574.5" r="1.45" fill="#FDE725" fill-opacity="0.45"/>
<circle cx="211.88" cy="825.17" r="1.45" fill="#440154" fill-opacity="0.42"/>
<circle cx="175.85" cy="712.12" r="1.45" fill="#FDE725" fill-opacity="0.45"/>
<circle cx="179.12" cy="810.42" r="1.45" fill="#440154" fill-opacity="0.42"/>
<circle cx="48.12" cy="584.34" r="1.45" fill="#440154" fill-opacity="0.42"/>
<circle cx="87.42" cy="608.91" r="1.45" fill="#FDE725" fill-opacity="0.45"/>
<circle cx="41.57" cy="643.31" r="1.45" fill="#440154" fill-opacity="0.42"/>
<circle cx="110.35" cy="697.38" r="1.45" fill="#440154" fill-opacity="0.42"/>
<circle cx="110.35" cy="608.91" r="1.45" fill="#FDE725" fill-opacity="0.45"/>
<circle cx="84.15" cy="697.38" r="1.45" fill="#440154" fill-opacity="0.42"/>
<circle cx="51.4" cy="707.21" r="1.45" fill="#440154" fill-opacity="0.42"/>
<circle cx="192.22" cy="682.63" r="1.45" fill="#FDE725" fill-opacity="0.45"/>
<circle cx="175.85" cy="751.44" r="1.45" fill="#FDE725" fill-opacity="0.45"/>
<circle cx="103.8" cy="648.23" r="1.45" fill="#440154" fill-opacity="0.42"/>
<circle cx="198.77" cy="692.46" r="1.45" fill="#FDE725" fill-opacity="0.45"/>
<circle cx="123.45" cy="643.31" r="1.45" fill="#440154" fill-opacity="0.42"/>
<circle cx="97.25" cy="682.63" r="1.45" fill="#440154" fill-opacity="0.42"/>
<circle cx="123.45" cy="731.78" r="1.45" fill="#440154" fill-opacity="0.42"/>
<circle cx="120.17" cy="731.78" r="1.45" fill="#440154" fill-opacity="0.42"/>
<circle cx="185.68" cy="721.95" r="1.45" fill="#FDE725" fill-opacity="0.45"/>
<path d="M32.3 640.79L40.9 645.57L49.51 650.32L58.11 655.05L66.72 659.74L75.32 664.38L83.92 668.98L92.53 673.5L101.13 677.95L109.74 682.32L118.34 686.61L126.95 690.81L135.55 694.94L144.15 699L152.76 703.01L161.36 706.97L169.97 710.9L178.57 714.79L187.18 718.67L195.78 722.52L204.38 726.36L212.99 730.19L221.59 734.01L230.2 737.82L238.8 741.62L238.8 760.58L230.2 755.73L221.59 750.89L212.99 746.06L204.38 741.24L195.78 736.43L187.18 731.63L178.57 726.86L169.97 722.1L161.36 717.38L152.76 712.69L144.15 708.05L135.55 703.46L126.95 698.94L118.34 694.49L109.74 690.13L101.13 685.85L92.53 681.65L83.92 677.52L75.32 673.47L66.72 669.46L58.11 665.5L49.51 661.58L40.9 657.68L32.3 653.81Z" fill="#999" fill-opacity="0.4"/>
<line x1="32.3" y1="647.3" x2="238.8" y2="751.1" stroke="#440154" stroke-width="2.0"/>
<path d="M32.3 621.67L40.77 626.72L49.24 631.75L57.71 636.76L66.18 641.74L74.65 646.67L83.12 651.55L91.6 656.37L100.07 661.11L108.54 665.76L117.01 670.33L125.48 674.81L133.95 679.21L142.42 683.54L150.89 687.82L159.36 692.05L167.83 696.24L176.3 700.41L184.77 704.55L193.25 708.68L201.72 712.79L210.19 716.89L218.66 720.98L227.13 725.06L235.6 729.14L235.6 747.46L227.13 742.35L218.66 737.24L210.19 732.14L201.72 727.05L193.25 721.96L184.77 716.9L176.3 711.85L167.83 706.83L159.36 701.83L150.89 696.87L142.42 691.95L133.95 687.09L125.48 682.3L117.01 677.59L108.54 672.96L100.07 668.43L91.6 663.98L83.12 659.6L74.65 655.29L66.18 651.03L57.71 646.81L49.24 642.63L40.77 638.47L32.3 634.33Z" fill="#999" fill-opacity="0.4"/>
<line x1="32.3" y1="628.0" x2="235.6" y2="738.3" stroke="#FDE725" stroke-width="2.0"/>
<rect x="185.8" y="522.2" width="48" height="52" fill="#fff"/>
<text transform="translate(190.4,536) scale(0.82,1)" font-size="10" fill="#000">Sex</text>
<rect x="190.1" y="542.2" width="11.7" height="28.6" fill="#d6d6d6"/>
<line x1="191" x2="201" y1="549.4" y2="549.4" stroke="#440154" stroke-width="1.5"/>
<line x1="191" x2="201" y1="563.8" y2="563.8" stroke="#FDE725" stroke-width="1.5"/>
<text transform="translate(206.5,552.4) scale(0.78,1)" font-size="8.6" fill="#1a1a1a">Male</text>
<text transform="translate(206.5,566.9) scale(0.78,1)" font-size="8.6" fill="#1a1a1a">Female</text>
<rect x="21.5" y="499.5" width="228.0" height="346.5" fill="none" stroke="#666" stroke-width="0.8"/>
<line x1="21.4" x2="21.4" y1="576" y2="594.3" stroke="#333" stroke-width="1.6"/>
<line x1="19.2" x2="21.5" y1="835" y2="835" stroke="#333" stroke-width="0.8"/>
<text transform="translate(17.9,838.1) scale(0.84,1)" font-size="8.9" fill="#4d4d4d" text-anchor="end">4</text>
<line x1="19.2" x2="21.5" y1="736.7" y2="736.7" stroke="#333" stroke-width="0.8"/>
<text transform="translate(17.9,739.8) scale(0.84,1)" font-size="8.9" fill="#4d4d4d" text-anchor="end">6</text>
<line x1="19.2" x2="21.5" y1="638.4" y2="638.4" stroke="#333" stroke-width="0.8"/>
<text transform="translate(17.9,641.5) scale(0.84,1)" font-size="8.9" fill="#4d4d4d" text-anchor="end">8</text>
<line x1="19.2" x2="21.5" y1="540.1" y2="540.1" stroke="#333" stroke-width="0.8"/>
<text transform="translate(17.9,543.2) scale(0.84,1)" font-size="8.9" fill="#4d4d4d" text-anchor="end">10</text>
<line x1="38.3" x2="38.3" y1="846.0" y2="848.4" stroke="#333" stroke-width="0.8"/>
<text transform="translate(38.3,858.1) scale(0.84,1)" font-size="8.9" fill="#4d4d4d" text-anchor="middle">20</text>
<line x1="103.8" x2="103.8" y1="846.0" y2="848.4" stroke="#333" stroke-width="0.8"/>
<text transform="translate(103.8,858.1) scale(0.84,1)" font-size="8.9" fill="#4d4d4d" text-anchor="middle">40</text>
<line x1="169.3" x2="169.3" y1="846.0" y2="848.4" stroke="#333" stroke-width="0.8"/>
<text transform="translate(169.3,858.1) scale(0.84,1)" font-size="8.9" fill="#4d4d4d" text-anchor="middle">60</text>
<line x1="234.8" x2="234.8" y1="846.0" y2="848.4" stroke="#333" stroke-width="0.8"/>
<text transform="translate(234.8,858.1) scale(0.84,1)" font-size="8.9" fill="#4d4d4d" text-anchor="middle">80</text>
<text transform="translate(7.5,672.6) rotate(-90)" font-size="10.2" fill="#000" text-anchor="middle">Telomere length (Kb)</text>
<rect x="354.4" y="541.1" width="26.81" height="25.93" fill="#FDE725" stroke="#888" stroke-width="0.7"/>
<rect x="381.21" y="541.1" width="26.81" height="25.93" fill="#6DCD59" stroke="#888" stroke-width="0.7"/>
<rect x="408.02" y="541.1" width="26.81" height="25.93" fill="#B4DE2C" stroke="#888" stroke-width="0.7"/>
<rect x="434.83" y="541.1" width="26.81" height="25.93" fill="#6DCD59" stroke="#888" stroke-width="0.7"/>
<rect x="461.64" y="541.1" width="26.81" height="25.93" fill="#6DCD59" stroke="#888" stroke-width="0.7"/>
<rect x="488.46" y="541.1" width="26.81" height="25.93" fill="#6DCD59" stroke="#888" stroke-width="0.7"/>
<rect x="515.27" y="541.1" width="26.81" height="25.93" fill="#31688E" stroke="#888" stroke-width="0.7"/>
<rect x="542.08" y="541.1" width="26.81" height="25.93" fill="#31688E" stroke="#888" stroke-width="0.7"/>
<rect x="568.89" y="541.1" width="26.81" height="25.93" fill="#482878" stroke="#888" stroke-width="0.7"/>
<rect x="354.4" y="567.03" width="26.81" height="25.93" fill="#6DCD59" stroke="#888" stroke-width="0.7"/>
<rect x="381.21" y="567.03" width="26.81" height="25.93" fill="#FDE725" stroke="#888" stroke-width="0.7"/>
<rect x="408.02" y="567.03" width="26.81" height="25.93" fill="#B4DE2C" stroke="#888" stroke-width="0.7"/>
<rect x="434.83" y="567.03" width="26.81" height="25.93" fill="#6DCD59" stroke="#888" stroke-width="0.7"/>
<rect x="461.64" y="567.03" width="26.81" height="25.93" fill="#6DCD59" stroke="#888" stroke-width="0.7"/>
<rect x="488.46" y="567.03" width="26.81" height="25.93" fill="#6DCD59" stroke="#888" stroke-width="0.7"/>
<rect x="515.27" y="567.03" width="26.81" height="25.93" fill="#31688E" stroke="#888" stroke-width="0.7"/>
<rect x="542.08" y="567.03" width="26.81" height="25.93" fill="#3E4A89" stroke="#888" stroke-width="0.7"/>
<rect x="568.89" y="567.03" width="26.81" height="25.93" fill="#482878" stroke="#888" stroke-width="0.7"/>
<rect x="354.4" y="592.97" width="26.81" height="25.93" fill="#B4DE2C" stroke="#888" stroke-width="0.7"/>
<rect x="381.21" y="592.97" width="26.81" height="25.93" fill="#B4DE2C" stroke="#888" stroke-width="0.7"/>
<rect x="408.02" y="592.97" width="26.81" height="25.93" fill="#FDE725" stroke="#888" stroke-width="0.7"/>
<rect x="434.83" y="592.97" width="26.81" height="25.93" fill="#FDE725" stroke="#888" stroke-width="0.7"/>
<rect x="461.64" y="592.97" width="26.81" height="25.93" fill="#B4DE2C" stroke="#888" stroke-width="0.7"/>
<rect x="488.46" y="592.97" width="26.81" height="25.93" fill="#B4DE2C" stroke="#888" stroke-width="0.7"/>
<rect x="515.27" y="592.97" width="26.81" height="25.93" fill="#31688E" stroke="#888" stroke-width="0.7"/>
<rect x="542.08" y="592.97" width="26.81" height="25.93" fill="#31688E" stroke="#888" stroke-width="0.7"/>
<rect x="568.89" y="592.97" width="26.81" height="25.93" fill="#3E4A89" stroke="#888" stroke-width="0.7"/>
<rect x="354.4" y="618.9" width="26.81" height="25.93" fill="#6DCD59" stroke="#888" stroke-width="0.7"/>
<rect x="381.21" y="618.9" width="26.81" height="25.93" fill="#6DCD59" stroke="#888" stroke-width="0.7"/>
<rect x="408.02" y="618.9" width="26.81" height="25.93" fill="#FDE725" stroke="#888" stroke-width="0.7"/>
<rect x="434.83" y="618.9" width="26.81" height="25.93" fill="#FDE725" stroke="#888" stroke-width="0.7"/>
<rect x="461.64" y="618.9" width="26.81" height="25.93" fill="#B4DE2C" stroke="#888" stroke-width="0.7"/>
<rect x="488.46" y="618.9" width="26.81" height="25.93" fill="#B4DE2C" stroke="#888" stroke-width="0.7"/>
<rect x="515.27" y="618.9" width="26.81" height="25.93" fill="#31688E" stroke="#888" stroke-width="0.7"/>
<rect x="542.08" y="618.9" width="26.81" height="25.93" fill="#31688E" stroke="#888" stroke-width="0.7"/>
<rect x="568.89" y="618.9" width="26.81" height="25.93" fill="#3E4A89" stroke="#888" stroke-width="0.7"/>
<rect x="354.4" y="644.83" width="26.81" height="25.93" fill="#6DCD59" stroke="#888" stroke-width="0.7"/>
<rect x="381.21" y="644.83" width="26.81" height="25.93" fill="#6DCD59" stroke="#888" stroke-width="0.7"/>
<rect x="408.02" y="644.83" width="26.81" height="25.93" fill="#B4DE2C" stroke="#888" stroke-width="0.7"/>
<rect x="434.83" y="644.83" width="26.81" height="25.93" fill="#B4DE2C" stroke="#888" stroke-width="0.7"/>
<rect x="461.64" y="644.83" width="26.81" height="25.93" fill="#FDE725" stroke="#888" stroke-width="0.7"/>
<rect x="488.46" y="644.83" width="26.81" height="25.93" fill="#B4DE2C" stroke="#888" stroke-width="0.7"/>
<rect x="515.27" y="644.83" width="26.81" height="25.93" fill="#31688E" stroke="#888" stroke-width="0.7"/>
<rect x="542.08" y="644.83" width="26.81" height="25.93" fill="#3E4A89" stroke="#888" stroke-width="0.7"/>
<rect x="568.89" y="644.83" width="26.81" height="25.93" fill="#482878" stroke="#888" stroke-width="0.7"/>
<rect x="354.4" y="670.77" width="26.81" height="25.93" fill="#6DCD59" stroke="#888" stroke-width="0.7"/>
<rect x="381.21" y="670.77" width="26.81" height="25.93" fill="#6DCD59" stroke="#888" stroke-width="0.7"/>
<rect x="408.02" y="670.77" width="26.81" height="25.93" fill="#B4DE2C" stroke="#888" stroke-width="0.7"/>
<rect x="434.83" y="670.77" width="26.81" height="25.93" fill="#B4DE2C" stroke="#888" stroke-width="0.7"/>
<rect x="461.64" y="670.77" width="26.81" height="25.93" fill="#B4DE2C" stroke="#888" stroke-width="0.7"/>
<rect x="488.46" y="670.77" width="26.81" height="25.93" fill="#FDE725" stroke="#888" stroke-width="0.7"/>
<rect x="515.27" y="670.77" width="26.81" height="25.93" fill="#3E4A89" stroke="#888" stroke-width="0.7"/>
<rect x="542.08" y="670.77" width="26.81" height="25.93" fill="#3E4A89" stroke="#888" stroke-width="0.7"/>
<rect x="568.89" y="670.77" width="26.81" height="25.93" fill="#482878" stroke="#888" stroke-width="0.7"/>
<rect x="354.4" y="696.7" width="26.81" height="25.93" fill="#31688E" stroke="#888" stroke-width="0.7"/>
<rect x="381.21" y="696.7" width="26.81" height="25.93" fill="#31688E" stroke="#888" stroke-width="0.7"/>
<rect x="408.02" y="696.7" width="26.81" height="25.93" fill="#31688E" stroke="#888" stroke-width="0.7"/>
<rect x="434.83" y="696.7" width="26.81" height="25.93" fill="#31688E" stroke="#888" stroke-width="0.7"/>
<rect x="461.64" y="696.7" width="26.81" height="25.93" fill="#31688E" stroke="#888" stroke-width="0.7"/>
<rect x="488.46" y="696.7" width="26.81" height="25.93" fill="#3E4A89" stroke="#888" stroke-width="0.7"/>
<rect x="515.27" y="696.7" width="26.81" height="25.93" fill="#FDE725" stroke="#888" stroke-width="0.7"/>
<rect x="542.08" y="696.7" width="26.81" height="25.93" fill="#FDE725" stroke="#888" stroke-width="0.7"/>
<rect x="568.89" y="696.7" width="26.81" height="25.93" fill="#26828E" stroke="#888" stroke-width="0.7"/>
<rect x="354.4" y="722.63" width="26.81" height="25.93" fill="#31688E" stroke="#888" stroke-width="0.7"/>
<rect x="381.21" y="722.63" width="26.81" height="25.93" fill="#3E4A89" stroke="#888" stroke-width="0.7"/>
<rect x="408.02" y="722.63" width="26.81" height="25.93" fill="#31688E" stroke="#888" stroke-width="0.7"/>
<rect x="434.83" y="722.63" width="26.81" height="25.93" fill="#31688E" stroke="#888" stroke-width="0.7"/>
<rect x="461.64" y="722.63" width="26.81" height="25.93" fill="#3E4A89" stroke="#888" stroke-width="0.7"/>
<rect x="488.46" y="722.63" width="26.81" height="25.93" fill="#3E4A89" stroke="#888" stroke-width="0.7"/>
<rect x="515.27" y="722.63" width="26.81" height="25.93" fill="#FDE725" stroke="#888" stroke-width="0.7"/>
<rect x="542.08" y="722.63" width="26.81" height="25.93" fill="#FDE725" stroke="#888" stroke-width="0.7"/>
<rect x="568.89" y="722.63" width="26.81" height="25.93" fill="#1F9E89" stroke="#888" stroke-width="0.7"/>
<rect x="354.4" y="748.57" width="26.81" height="25.93" fill="#482878" stroke="#888" stroke-width="0.7"/>
<rect x="381.21" y="748.57" width="26.81" height="25.93" fill="#482878" stroke="#888" stroke-width="0.7"/>
<rect x="408.02" y="748.57" width="26.81" height="25.93" fill="#3E4A89" stroke="#888" stroke-width="0.7"/>
<rect x="434.83" y="748.57" width="26.81" height="25.93" fill="#3E4A89" stroke="#888" stroke-width="0.7"/>
<rect x="461.64" y="748.57" width="26.81" height="25.93" fill="#482878" stroke="#888" stroke-width="0.7"/>
<rect x="488.46" y="748.57" width="26.81" height="25.93" fill="#482878" stroke="#888" stroke-width="0.7"/>
<rect x="515.27" y="748.57" width="26.81" height="25.93" fill="#26828E" stroke="#888" stroke-width="0.7"/>
<rect x="542.08" y="748.57" width="26.81" height="25.93" fill="#1F9E89" stroke="#888" stroke-width="0.7"/>
<rect x="568.89" y="748.57" width="26.81" height="25.93" fill="#FDE725" stroke="#888" stroke-width="0.7"/>
<line x1="398.3" y1="499.6" x2="550.6" y2="499.6" stroke="#333" stroke-width="0.9"/>
<line x1="398.3" y1="499.6" x2="398.3" y2="532.3" stroke="#333" stroke-width="0.9"/>
<line x1="550.6" y1="499.6" x2="550.6" y2="520.2" stroke="#333" stroke-width="0.9"/>
<line x1="543.4" y1="520.2" x2="584.3" y2="520.2" stroke="#333" stroke-width="0.9"/>
<line x1="584.3" y1="520.2" x2="584.3" y2="541.1" stroke="#333" stroke-width="0.9"/>
<line x1="543.4" y1="520.2" x2="543.4" y2="537.7" stroke="#333" stroke-width="0.9"/>
<line x1="530.5" y1="537.7" x2="557" y2="537.7" stroke="#333" stroke-width="0.9"/>
<line x1="530.5" y1="537.7" x2="530.5" y2="541.1" stroke="#333" stroke-width="0.9"/>
<line x1="557" y1="537.7" x2="557" y2="541.1" stroke="#333" stroke-width="0.9"/>
<line x1="367.6" y1="532.3" x2="429" y2="532.3" stroke="#666" stroke-width="0.9"/>
<line x1="367.6" y1="532.3" x2="367.6" y2="541.1" stroke="#555" stroke-width="0.9"/>
<line x1="395" y1="533.4" x2="489.8" y2="533.4" stroke="#777" stroke-width="0.9"/>
<line x1="395" y1="533.4" x2="395" y2="541.1" stroke="#777" stroke-width="0.9"/>
<line x1="435.3" y1="533.4" x2="462.5" y2="533.4" stroke="#222" stroke-width="0.9"/>
<line x1="435.3" y1="533.4" x2="435.3" y2="537.4" stroke="#333" stroke-width="0.9"/>
<line x1="421.8" y1="537.4" x2="449.2" y2="537.4" stroke="#444" stroke-width="0.9"/>
<line x1="421.8" y1="537.4" x2="421.8" y2="541.1" stroke="#444" stroke-width="0.9"/>
<line x1="449.2" y1="537.4" x2="449.2" y2="541.1" stroke="#444" stroke-width="0.9"/>
<line x1="489.8" y1="533.4" x2="489.8" y2="535.9" stroke="#444" stroke-width="0.9"/>
<line x1="476.6" y1="535.9" x2="503.2" y2="535.9" stroke="#555" stroke-width="0.9"/>
<line x1="476.6" y1="535.9" x2="476.6" y2="541.1" stroke="#555" stroke-width="0.9"/>
<line x1="503.2" y1="535.9" x2="503.2" y2="541.1" stroke="#555" stroke-width="0.9"/>
<line x1="306.6" y1="583.4" x2="306.6" y2="729.1" stroke="#333" stroke-width="0.9"/>
<line x1="306.6" y1="583.4" x2="343.6" y2="583.4" stroke="#444" stroke-width="0.9"/>
<line x1="306.6" y1="729.1" x2="330.3" y2="729.1" stroke="#333" stroke-width="0.9"/>
<line x1="330.3" y1="722.4" x2="330.3" y2="761.3" stroke="#333" stroke-width="0.9"/>
<line x1="330.3" y1="722.4" x2="350.5" y2="722.4" stroke="#333" stroke-width="0.9"/>
<line x1="330.3" y1="761.3" x2="354.4" y2="761.3" stroke="#333" stroke-width="0.9"/>
<line x1="350.5" y1="709.8" x2="350.5" y2="735.5" stroke="#333" stroke-width="0.9"/>
<line x1="350.5" y1="709.8" x2="354.4" y2="709.8" stroke="#333" stroke-width="0.9"/>
<line x1="350.5" y1="735.5" x2="354.4" y2="735.5" stroke="#333" stroke-width="0.9"/>
<line x1="343.6" y1="553.8" x2="343.6" y2="612.5" stroke="#777" stroke-width="0.9"/>
<line x1="343.6" y1="553.8" x2="354.4" y2="553.8" stroke="#555" stroke-width="0.9"/>
<line x1="345.3" y1="580.3" x2="345.3" y2="670.4" stroke="#888" stroke-width="0.9"/>
<line x1="345.3" y1="580.3" x2="354.4" y2="580.3" stroke="#666" stroke-width="0.9"/>
<line x1="345.3" y1="618.7" x2="345.3" y2="645" stroke="#111" stroke-width="0.9"/>
<line x1="345.3" y1="618.7" x2="350.4" y2="618.7" stroke="#444" stroke-width="0.9"/>
<line x1="350.4" y1="605.6" x2="350.4" y2="631.8" stroke="#444" stroke-width="0.9"/>
<line x1="350.4" y1="605.6" x2="354.4" y2="605.6" stroke="#444" stroke-width="0.9"/>
<line x1="350.4" y1="631.8" x2="354.4" y2="631.8" stroke="#444" stroke-width="0.9"/>
<line x1="345.3" y1="670.4" x2="348.6" y2="670.4" stroke="#555" stroke-width="0.9"/>
<line x1="348.6" y1="657.6" x2="348.6" y2="683.5" stroke="#444" stroke-width="0.9"/>
<line x1="348.6" y1="657.6" x2="354.4" y2="657.6" stroke="#444" stroke-width="0.9"/>
<line x1="348.6" y1="683.5" x2="354.4" y2="683.5" stroke="#444" stroke-width="0.9"/>
<text transform="translate(600.8,556.97) scale(1.1,1)" font-size="8.3" fill="#000">NK−cells</text>
<text transform="translate(600.8,582.9) scale(1.1,1)" font-size="8.3" fill="#000">Memory T−cells</text>
<text transform="translate(600.8,608.83) scale(1.1,1)" font-size="8.3" fill="#000">Lymphocytes</text>
<text transform="translate(600.8,634.77) scale(1.1,1)" font-size="8.3" fill="#000">Naïve T−cells</text>
<text transform="translate(600.8,660.7) scale(1.1,1)" font-size="8.3" fill="#000">B−cells</text>
<text transform="translate(600.8,686.63) scale(1.1,1)" font-size="8.3" fill="#000">Granulocytes</text>
<text transform="translate(600.8,712.57) scale(1.1,1)" font-size="8.3" fill="#000">Age</text>
<text transform="translate(600.8,738.5) scale(1.1,1)" font-size="8.3" fill="#000">Methyl.Age.Hannum.</text>
<text transform="translate(600.8,764.43) scale(1.1,1)" font-size="8.3" fill="#000">sjTREC</text>
<text transform="translate(364.91,776.4) rotate(90) scale(1,1.16)" font-size="8.05" fill="#000">NK−cells</text>
<text transform="translate(391.72,776.4) rotate(90) scale(1,1.16)" font-size="8.05" fill="#000">Memory T−cells</text>
<text transform="translate(418.53,776.4) rotate(90) scale(1,1.16)" font-size="8.05" fill="#000">Lymphocytes</text>
<text transform="translate(445.34,776.4) rotate(90) scale(1,1.16)" font-size="8.05" fill="#000">Naïve T−cells</text>
<text transform="translate(472.15,776.4) rotate(90) scale(1,1.16)" font-size="8.05" fill="#000">B−cells</text>
<text transform="translate(498.96,776.4) rotate(90) scale(1,1.16)" font-size="8.05" fill="#000">Granulocytes</text>
<text transform="translate(525.77,776.4) rotate(90) scale(1,1.16)" font-size="8.05" fill="#000">Age</text>
<text transform="translate(552.58,776.4) rotate(90) scale(1,1.16)" font-size="8.05" fill="#000">Methyl.Age.Hannum.</text>
<text transform="translate(579.39,776.4) rotate(90) scale(1,1.16)" font-size="8.05" fill="#000">sjTREC</text>
<text x="491.6" y="846.3" font-size="13.6" fill="#000" text-anchor="middle">Age</text>
<rect x="274.3" y="600" width="9.8" height="13.43" fill="#FDE725"/>
<rect x="274.3" y="613.13" width="9.8" height="13.43" fill="#B4DE2C"/>
<rect x="274.3" y="626.27" width="9.8" height="13.43" fill="#6DCD59"/>
<rect x="274.3" y="639.4" width="9.8" height="13.43" fill="#35B779"/>
<rect x="274.3" y="652.53" width="9.8" height="13.43" fill="#1F9E89"/>
<rect x="274.3" y="665.67" width="9.8" height="13.43" fill="#26828E"/>
<rect x="274.3" y="678.8" width="9.8" height="13.43" fill="#31688E"/>
<rect x="274.3" y="691.93" width="9.8" height="13.43" fill="#3E4A89"/>
<rect x="274.3" y="705.07" width="9.8" height="13.43" fill="#482878"/>
<text x="287.4" y="603.6" font-size="8.6" fill="#1a1a1a">1</text>
<text x="287.4" y="632.2" font-size="8.6" fill="#1a1a1a">0.8</text>
<text x="287.4" y="660.1" font-size="8.6" fill="#1a1a1a">0.6</text>
<text x="287.4" y="688.6" font-size="8.6" fill="#1a1a1a">0.4</text>
<text x="287.4" y="717.2" font-size="8.6" fill="#1a1a1a">0.2</text>
<text transform="translate(-0.2,27.9) scale(0.92,1)" font-size="37" fill="#000">a</text>
<text transform="translate(348.4,27.9) scale(1.04,1)" font-size="37" fill="#000">b</text>
<text transform="translate(-0.8,461.9) scale(1.0,1)" font-size="37" fill="#000">c</text>
<text transform="translate(348.7,461.3) scale(1.06,1)" font-size="37" fill="#000">d</text>
</svg>
</body></html>
